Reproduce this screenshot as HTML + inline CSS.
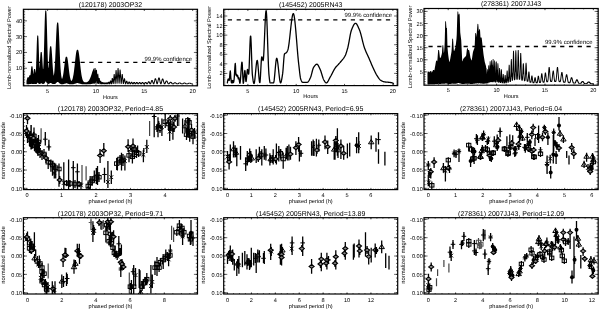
<!DOCTYPE html>
<html><head><meta charset="utf-8"><style>
html,body{margin:0;padding:0;background:#fff;}
svg{display:block;font-family:"Liberation Sans", sans-serif;-webkit-font-smoothing:antialiased;will-change:transform;text-rendering:geometricPrecision;}
</style></head><body>
<svg width="600" height="309" viewBox="0 0 600 309">
<rect width="600" height="309" fill="#fff"/>
<g>
<path d="M26.5 80.86 26.75 79.99 27 78.98 27.25 77.95 27.5 77.39 27.75 77.29 28 77.29 28.25 77.29 28.5 77.29 28.75 77.41 29 76.63 29.25 75.77 29.5 75.25 29.75 75.19 30 75.19 30.25 75.19 30.5 74.64 30.75 72.53 31 69.68 31.25 67.17 31.5 66.21 31.75 66.21 32 66.21 32.25 66.21 32.5 66.63 32.75 68.77 33 71.77 33.25 74.45 33.5 72.43 33.75 70.42 34 69.22 34.25 69.08 34.5 69.08 34.75 69.09 35 69.1 35.25 69.97 35.5 71.77 35.75 72.88 36 68.6 36.25 62.11 36.5 53.94 36.75 45.48 37 38.73 37.25 35.6 37.5 35.52 37.75 35.52 38 35.52 38.25 35.92 38.5 39.96 38.75 47.17 39 55.51 39.25 63.02 39.5 68.42 39.75 65.17 40 60.77 40.25 56.54 40.5 53.37 40.75 52.01 41 51.99 41.25 51.99 41.5 51.99 41.75 52.22 42 54.21 42.25 57.76 42.5 62.05 42.75 66.23 43 69.62 43.25 68.5 43.5 63.88 43.75 57.35 44 49.03 44.25 39.43 44.5 29.49 44.75 20.52 45 13.89 45.25 10.74 45.5 10.58 45.75 10.58 46 10.58 46.25 10.79 46.5 14.09 46.75 20.85 47 29.92 47.25 39.89 47.5 49.46 47.75 57.67 48 63.97 48.25 68.22 48.5 67.26 48.75 63.99 49 60.14 49.25 56.08 49.5 52.24 49.75 49.07 50 46.97 50.25 46.25 50.5 46.25 50.75 46.25 51 46.25 51.25 46.53 51.5 48.13 51.75 50.96 52 54.66 52.25 58.79 52.5 62.94 52.75 66.75 53 70 53.25 72.57 53.5 74.45 53.75 75.66 54 74.47 54.25 72.66 54.5 70.13 54.75 66.83 55 62.72 55.25 57.82 55.5 52.27 55.75 46.3 56 40.23 56.25 34.45 56.5 29.42 56.75 25.56 57 23.2 57.25 22.56 57.5 22.56 57.75 22.56 58 22.56 58.25 23.07 58.5 25.29 58.75 29.06 59 34.06 59.25 39.87 59.5 46.05 59.75 52.18 60 57.93 60.25 63.06 60.5 67.42 60.75 70.98 61 73.75 61.25 75.83 61.5 77.31 61.75 78.3 62 78.91 62.25 78.46 62.5 77.77 62.75 76.86 63 75.71 63.25 74.32 63.5 72.69 63.75 70.85 64 68.85 64.25 66.74 64.5 64.6 64.75 62.53 65 60.64 65.25 59.03 65.5 57.8 65.75 57.03 66 56.76 66.25 56.76 66.5 56.76 66.75 56.76 67 56.85 67.25 57.42 67.5 58.48 67.75 59.97 68 61.79 68.25 63.85 68.5 66.04 68.75 68.26 69 70.42 69.25 72.44 69.5 74.27 69.75 75.87 70 77.24 70.25 78.37 70.5 79.28 70.75 79.98 71 80.51 71.25 80.87 71.5 81.01 71.75 80.71 72 80.29 72.25 79.74 72.5 79.03 72.75 78.16 73 77.1 73.25 75.85 73.5 74.4 73.75 72.74 74 70.88 74.25 68.85 74.5 66.68 74.75 64.4 75 62.07 75.25 59.75 75.5 57.52 75.75 55.46 76 53.62 76.25 52.09 76.5 50.92 76.75 50.17 77 49.86 77.25 49.85 77.5 49.85 77.75 49.85 78 49.89 78.25 50.31 78.5 51.17 78.75 52.43 79 54.05 79.25 55.95 79.5 58.07 79.75 60.34 80 62.67 80.25 65 80.5 67.28 80.75 69.44 81 71.44 81.25 73.27 81.5 74.89 81.75 76.32 82 77.54 82.25 78.57 82.5 79.42 82.75 80.12 83 80.67 83.25 81.11 83.5 81.45 83.75 81.71 84 81.91 84.25 82.05 84.5 82.16 84.75 82.24 85 82.29 85.25 82.32 85.5 82.35 85.75 82.34 86 82.31 86.25 82.27 86.5 82.21 86.75 82.15 87 82.06 87.25 81.96 87.5 81.84 87.75 81.69 88 81.51 88.25 81.29 88.5 81.04 88.75 80.75 89 80.41 89.25 80.03 89.5 79.6 89.75 79.11 90 78.57 90.25 77.99 90.5 77.35 90.75 76.67 91 75.95 91.25 75.2 91.5 74.43 91.75 73.64 92 72.86 92.25 72.08 92.5 71.34 92.75 70.63 93 69.98 93.25 69.4 93.5 68.9 93.75 68.49 94 68.19 94.25 67.99 94.5 71.78 94.75 67.93 95 67.93 95.25 67.93 95.5 67.93 95.75 70.54 96 69.99 96.25 69.85 96.5 69.85 96.75 69.85 97 70.62 97.25 75.01 97.5 73.85 97.75 73.84 98 73.84 98.25 73.85 98.5 76.37 98.75 78.02 99 77.92 99.25 77.93 99.5 77.92 99.75 78.13 100 80.39 100.25 80.67 100.5 80.66 100.75 80.66 101 80.66 101.25 80.89 101.5 82.15 101.75 81.94 102 81.93 102.25 81.93 102.5 81.93 102.75 82.03 103 82.7 103.25 82.39 103.5 82.33 103.75 82.33 104 82.33 104.25 82.34 104.5 82.74 104.75 82.58 105 82.38 105.25 82.38 105.5 82.38 105.75 82.38 106 82.55 106.25 82.8 106.5 82.29 106.75 82.22 107 82.22 107.25 82.22 107.5 82.22 107.75 82.58 108 82.33 108.25 81.76 108.5 81.72 108.75 81.72 109 81.72 109.25 81.75 109.5 82.3 109.75 81.49 110 80.58 110.25 80.49 110.5 80.49 110.75 80.49 111 80.52 111.25 81.31 111.5 80.2 111.75 78.37 112 77.99 112.25 77.99 112.5 77.99 112.75 77.99 113 78.92 113.25 79.22 113.5 75.74 113.75 74.12 114 74.11 114.25 74.11 114.5 74.11 114.75 74.6 115 77.52 115.25 75.14 115.5 70.96 115.75 69.98 116 69.98 116.25 69.98 116.5 69.98 116.75 71.7 117 76.43 117.25 72.9 117.5 68.63 117.75 67.91 118 67.9 118.25 67.9 118.5 67.91 118.75 70.24 119 75.56 119.25 74.51 119.5 70.49 119.75 69.55 120 69.55 120.25 69.55 120.5 69.55 120.75 71.03 121 75.28 121.25 78.7 121.5 75.47 121.75 73.95 122 73.93 122.25 73.93 122.5 73.93 122.75 74.21 123 76.32 123.25 79.49 123.5 80.35 123.75 78.78 124 78.27 124.25 78.27 124.5 78.27 124.75 78.27 125 78.57 125.25 79.86 125.5 81.55 125.75 82.02 126 81.15 126.25 80.77 126.5 80.76 126.75 80.76 127 80.76 127.25 80.83 127.5 81.38 127.75 82.24 128 82.88 128.25 82.23 128.5 81.74 128.75 81.61 129 81.61 129.25 81.61 129.5 81.61 129.75 81.73 130 82.2 130.25 82.82 130.5 82.87 130.75 82.32 131 81.92 131.25 81.83 131.5 81.83 131.75 81.83 132 81.83 132.25 81.95 132.5 82.36 132.75 82.91 133 82.99 133.25 82.48 133.5 82.07 133.75 81.91 134 81.91 134.25 81.91 134.5 81.91 134.75 81.96 135 82.27 135.25 82.75 135.5 83.23 135.75 82.8 136 82.34 136.25 82.03 136.5 81.97 136.75 81.97 137 81.97 137.25 81.97 137.5 82.08 137.75 82.42 138 82.89 138.25 83.26 138.5 82.82 138.75 82.39 139 82.1 139.25 82.02 139.5 82.02 139.75 82.02 140 82.02 140.25 82.1 140.5 82.39 140.75 82.81 141 83.24 141.25 83.03 141.5 82.6 141.75 82.24 142 82.05 142.25 82.03 142.5 82.03 142.75 82.03 143 82.04 143.25 82.2 143.5 82.53 143.75 82.95 144 83.33 144.25 82.95 144.5 82.51 144.75 82.13 145 81.91 145.25 81.88 145.5 81.88 145.75 81.88 146 81.88 146.25 82.01 146.5 82.33 146.75 82.76 147 83.19 147.25 82.97 147.5 82.44 147.75 81.9 148 81.49 148.25 81.29 148.5 81.29 148.75 81.29 149 81.29 149.25 81.31 149.5 81.54 149.75 82 150 82.56 150.25 83.1 150.5 82.57 150.75 81.78 151 80.98 151.25 80.35 151.5 80.02 151.75 79.99 152 79.99 152.25 79.99 152.5 80 152.75 80.28 153 80.89 153.25 81.7 153.5 82.54 153.75 82.48 154 81.44 154.25 80.3 154.5 79.26 154.75 78.54 155 78.3 155.25 78.3 155.5 78.3 155.75 78.3 156 78.4 156.25 78.97 156.5 79.93 156.75 81.08 157 82.2 157.25 82.26 157.5 81.08 157.75 79.79 158 78.63 158.25 77.81 158.5 77.49 158.75 77.49 159 77.49 159.25 77.49 159.5 77.56 159.75 78.1 160 79.07 160.25 80.29 160.5 81.54 160.75 82.59 161 82.13 161.25 81.1 161.5 80.07 161.75 79.21 162 78.68 162.25 78.54 162.5 78.54 162.75 78.54 163 78.54 163.25 78.67 163.5 79.18 163.75 79.98 164 80.94 164.25 81.9 164.5 82.71 164.75 82.92 165 82.33 165.25 81.7 165.5 81.14 165.75 80.73 166 80.53 166.25 80.52 166.5 80.52 166.75 80.52 167 80.53 167.25 80.7 167.5 81.08 167.75 81.58 168 82.14 168.25 82.68 168.5 83.14 168.75 83.32 169 83.01 169.25 82.67 169.5 82.35 169.75 82.09 170 81.92 170.25 81.87 170.5 81.87 170.75 81.87 171 81.87 171.25 81.9 171.5 82.04 171.75 82.27 172 82.56 172.25 82.87 172.5 83.16 172.75 83.41 173 83.45 173.25 83.25 173.5 83.02 173.75 82.79 174 82.59 174.25 82.44 174.5 82.37 174.75 82.36 175 82.36 175.25 82.36 175.5 82.36 175.75 82.41 176 82.53 176.25 82.71 176.5 82.92 176.75 83.14 177 83.35 177.25 83.52 177.5 83.47 177.75 83.3 178 83.11 178.25 82.92 178.5 82.74 178.75 82.6 179 82.52 179.25 82.5 179.5 82.5 179.75 82.5 180 82.5 180.25 82.53 180.5 82.61 180.75 82.74 181 82.92 181.25 83.1 181.5 83.29 181.75 83.45 182 83.58 182.25 83.47 182.5 83.32 182.75 83.15 183 82.98 183.25 82.82 183.5 82.7 183.75 82.63 184 82.6 184.25 82.6 184.5 82.6 184.75 82.6 185 82.61 185.25 82.67 185.5 82.78 185.75 82.92 186 83.08 186.25 83.24 186.5 83.4 186.75 83.53 187 83.58 187.25 83.47 187.5 83.34 187.75 83.19 188 83.04 188.25 82.91 188.5 82.8 188.75 82.73 189 82.7 189.25 82.7 189.5 82.7 189.75 82.7 190 82.7 190.25 82.74 190.5 82.82 190.75 82.93 191 83.07 191.25 83.21 191.5 83.35 191.75 83.48 192 83.58 192.25 83.59 192.5 83.55 192.75 83.54 193 83.54 193 84.31 192.75 84.36 192.5 84.37 192.25 84.37 192 84.37 191.75 84.37 191.5 84.36 191.25 84.31 191 84.22 190.75 84.1 190.5 83.97 190.25 83.82 190 83.69 189.75 83.56 189.5 83.47 189.25 83.54 189 83.66 188.75 83.8 188.5 83.95 188.25 84.1 188 84.22 187.75 84.31 187.5 84.36 187.25 84.37 187 84.37 186.75 84.37 186.5 84.37 186.25 84.34 186 84.27 185.75 84.15 185.5 84.01 185.25 83.85 185 83.68 184.75 83.53 184.5 83.41 184.25 83.45 184 83.58 183.75 83.75 183.5 83.92 183.25 84.08 183 84.22 182.75 84.32 182.5 84.36 182.25 84.37 182 84.37 181.75 84.37 181.5 84.36 181.25 84.31 181 84.21 180.75 84.06 180.5 83.88 180.25 83.69 180 83.51 179.75 83.36 179.5 83.35 179.25 83.51 179 83.69 178.75 83.89 178.5 84.08 178.25 84.23 178 84.33 177.75 84.36 177.5 84.36 177.25 84.36 177 84.36 176.75 84.35 176.5 84.27 176.25 84.12 176 83.93 175.75 83.71 175.5 83.49 175.25 83.3 175 83.19 174.75 83.37 174.5 83.58 174.25 83.82 174 84.04 173.75 84.22 173.5 84.33 173.25 84.35 173 84.35 172.75 84.35 172.5 84.35 172.25 84.31 172 84.18 171.75 83.97 171.5 83.69 171.25 83.38 171 83.08 170.75 82.82 170.5 82.88 170.25 83.17 170 83.51 169.75 83.84 169.5 84.12 169.25 84.29 169 84.32 168.75 84.32 168.5 84.32 168.25 84.32 168 84.24 167.75 83.98 167.5 83.58 167.25 83.06 167 82.5 166.75 81.96 166.5 81.57 166.25 82.05 166 82.65 165.75 83.28 165.5 83.82 165.25 84.16 165 84.25 164.75 84.25 164.5 84.25 164.25 84.25 164 84.12 163.75 83.67 163.5 82.95 163.25 82.03 163 81.05 162.75 80.17 162.5 80.22 162.25 81.17 162 82.23 161.75 83.2 161.5 83.89 161.25 84.17 161 84.17 160.75 84.17 160.5 84.17 160.25 84.11 160 83.61 159.75 82.69 159.5 81.5 159.25 80.24 159 79.15 158.75 79.76 158.5 81 158.25 82.28 158 83.35 157.75 84.01 157.5 84.17 157.25 84.17 157 84.17 156.75 84.17 156.5 83.97 156.25 83.29 156 82.25 155.75 81.08 155.5 80.01 155.25 80.35 155 81.45 154.75 82.58 154.5 83.52 154.25 84.09 154 84.23 153.75 84.23 153.5 84.23 153.25 84.23 153 84.07 152.75 83.53 152.5 82.74 152.25 81.9 152 81.28 151.75 81.99 151.5 82.8 151.25 83.54 151 84.07 150.75 84.29 150.5 84.29 150.25 84.29 150 84.29 149.75 84.26 149.5 83.98 149.25 83.49 149 82.92 148.75 82.4 148.5 82.81 148.25 83.36 148 83.86 147.75 84.21 147.5 84.33 147.25 84.33 147 84.33 146.75 84.33 146.5 84.28 146.25 84.04 146 83.64 145.75 83.19 145.5 82.97 145.25 83.39 145 83.82 144.75 84.17 144.5 84.33 144.25 84.34 144 84.34 143.75 84.34 143.5 84.33 143.25 84.16 143 83.81 142.75 83.39 142.5 83.07 142.25 83.47 142 83.89 141.75 84.21 141.5 84.34 141.25 84.34 141 84.34 140.75 84.34 140.5 84.31 140.25 84.08 140 83.69 139.75 83.25 139.5 83.25 139.25 83.7 139 84.1 138.75 84.32 138.5 84.34 138.25 84.34 138 84.34 137.75 84.34 137.5 84.16 137.25 83.77 137 83.3 136.75 83.21 136.5 83.69 136.25 84.11 136 84.33 135.75 84.34 135.5 84.34 135.25 84.34 135 84.32 134.75 84.09 134.5 83.65 134.25 83.15 134 83.38 133.75 83.89 133.5 84.25 133.25 84.34 133 84.34 132.75 84.34 132.5 84.34 132.25 84.22 132 83.82 131.75 83.27 131.5 83.23 131.25 83.79 131 84.21 130.75 84.33 130.5 84.33 130.25 84.33 130 84.33 129.75 84.21 129.5 83.76 129.25 83.14 129 83.19 128.75 83.83 128.5 84.26 128.25 84.32 128 84.32 127.75 84.32 127.5 84.31 127.25 84.01 127 83.29 126.75 82.4 126.5 83.12 126.25 83.97 126 84.26 125.75 84.26 125.5 84.26 125.25 84.26 125 83.99 124.75 82.88 124.5 81.23 124.25 81.82 124 83.53 123.75 84.12 123.5 84.12 123.25 84.12 123 84.12 122.75 83.6 122.5 81.4 122.25 78.25 122 80.81 121.75 83.47 121.5 83.93 121.25 83.93 121 83.93 120.75 83.92 120.5 82.2 120.25 77.96 120 77.28 119.75 81.97 119.5 83.79 119.25 83.79 119 83.79 118.75 83.79 118.5 82.9 118.25 78.56 118 75.92 117.75 81.34 117.5 83.79 117.25 83.8 117 83.8 116.75 83.8 116.5 83.18 116.25 79.25 116 77.92 115.75 82.39 115.5 83.94 115.25 83.94 115 83.94 114.75 83.94 114.5 83.11 114.25 79.78 114 81.35 113.75 83.79 113.5 84.11 113.25 84.11 113 84.11 112.75 84.1 112.5 82.8 112.25 81.81 112 83.68 111.75 84.24 111.5 84.24 111.25 84.24 111 84.24 110.75 83.84 110.5 82.71 110.25 83.88 110 84.31 109.75 84.31 109.5 84.31 109.25 84.31 109 84.13 108.75 83.36 108.5 84.11 108.25 84.34 108 84.34 107.75 84.34 107.5 84.34 107.25 84.16 107 83.76 106.75 84.28 106.5 84.36 106.25 84.36 106 84.36 105.75 84.35 105.5 84.03 105.25 84.09 105 84.36 104.75 84.36 104.5 84.36 104.25 84.36 104 84.24 103.75 83.86 103.5 84.33 103.25 84.35 103 84.35 102.75 84.35 102.5 84.31 102.25 83.74 102 84.25 101.75 84.32 101.5 84.32 101.25 84.32 101 84.28 100.75 83.42 100.5 84.16 100.25 84.24 100 84.24 99.75 84.24 99.5 84.11 99.25 82.23 99 84.1 98.75 84.11 98.5 84.1 98.25 84.1 98 83.33 97.75 82.65 97.5 83.93 97.25 83.93 97 83.93 96.75 83.93 96.5 80.44 96.25 83.79 96 83.8 95.75 83.8 95.5 83.8 95.25 82.31 95 83.18 94.75 83.78 94.5 83.79 94.25 83.79 94 83.41 93.75 82.77 93.5 83.88 93.25 83.88 93 83.88 92.75 83.82 92.5 83.16 92.25 84.04 92 84.04 91.75 84.03 91.5 83.99 91.25 83.85 91 84.18 90.75 84.18 90.5 84.18 90.25 84.05 90 84.25 89.75 84.27 89.5 84.27 89.25 84.27 89 83.94 88.75 84.32 88.5 84.32 88.25 84.32 88 84.32 87.75 84.3 87.5 84.35 87.25 84.35 87 84.35 86.75 84.25 86.5 84.36 86.25 84.36 86 84.36 85.75 84.36 85.5 84.36 85.25 84.36 85 84.36 84.75 84.36 84.5 84.34 84.25 84.35 84 84.35 83.75 84.35 83.5 84.27 83.25 84.32 83 84.32 82.75 84.32 82.5 84.16 82.25 84.23 82 84.23 81.75 84.23 81.5 84.03 81.25 84.05 81 84.05 80.75 84.05 80.5 83.76 80.25 83.76 80 83.77 79.75 83.76 79.5 83.42 79.25 83.41 79 83.42 78.75 83.42 78.5 83.14 78.25 83.15 78 83.14 77.75 83.06 77.5 83.04 77.25 83.05 77 83.06 76.75 83.18 76.5 83.17 76.25 83.18 76 83.45 75.75 83.45 75.5 83.46 75.25 83.76 75 83.76 74.75 83.75 74.5 83.76 74.25 84.01 74 84.01 73.75 84.01 73.5 84.18 73.25 84.18 73 84.18 72.75 84.27 72.5 84.27 72.25 84.27 72 84.31 71.75 84.31 71.5 84.31 71.25 84.3 71 84.3 70.75 84.3 70.5 84.28 70.25 84.25 70 84.25 69.75 84.14 69.5 84.13 69.25 84.13 69 83.95 68.75 83.95 68.5 83.95 68.25 83.7 68 83.72 67.75 83.71 67.5 83.49 67.25 83.49 67 83.47 66.75 83.35 66.5 83.34 66.25 83.33 66 83.35 65.75 83.47 65.5 83.45 65.25 83.65 65 83.66 64.75 83.67 64.5 83.87 64.25 83.87 64 84.04 63.75 84.04 63.5 84.09 63.25 84.16 63 84.15 62.75 84.21 62.5 84.22 62.25 84.23 62 84.23 61.75 84.23 61.5 84.23 61.25 84.19 61 84.19 60.75 84.09 60.5 84.09 60.25 83.87 60 83.85 59.75 83.51 59.5 83.49 59.25 82.98 59 83.03 58.75 82.5 58.5 82.53 58.25 82.05 58 82.12 57.75 81.94 57.5 82.02 57.25 82.01 57 82.37 56.75 82.39 56.5 82.82 56.25 82.83 56 83.24 55.75 83.63 55.5 83.6 55.25 83.86 55 83.88 54.75 84.03 54.5 84.04 54.25 84.1 54 84.11 53.75 84.11 53.5 84.1 53.25 84.12 53 84.06 52.75 84.04 52.5 83.94 52.25 83.74 52 83.71 51.75 83.49 51.5 83.2 51.25 83.23 51 82.97 50.75 82.97 50.5 82.95 50.25 82.99 50 83.28 49.75 83.27 49.5 83.55 49.25 83.71 49 83.86 48.75 83.85 48.5 83.91 48.25 83.89 48 83.88 47.75 83.81 47.5 83.77 47.25 83.52 47 83.19 46.75 82.71 46.5 82.65 46.25 82.02 46 81.62 45.75 81.52 45.5 81.46 45.25 82.08 45 82.4 44.75 82.97 44.5 83.32 44.25 83.68 44 83.68 43.75 83.85 43.5 83.93 43.25 83.96 43 83.95 42.75 83.91 42.5 83.9 42.25 83.7 42 83.54 41.75 83.32 41.5 83.41 41.25 83.27 41 83.24 40.75 83.43 40.5 83.64 40.25 83.82 40 83.91 39.75 83.93 39.5 83.86 39.25 83.91 39 83.88 38.75 83.63 38.5 83.47 38.25 83.23 38 82.93 37.75 82.54 37.5 82.63 37.25 83.05 37 83.56 36.75 83.71 36.5 83.94 36.25 84.04 36 84.03 35.75 84.07 35.5 84.08 35.25 84.03 35 83.88 34.75 83.94 34.5 83.84 34.25 83.98 34 83.91 33.75 84.08 33.5 84.09 33.25 84.11 33 84.11 32.75 84.08 32.5 84.03 32.25 83.89 32 83.78 31.75 83.77 31.5 83.84 31.25 84.01 31 84.06 30.75 84.08 30.5 84.09 30.25 84.08 30 84.06 29.75 84.07 29.5 84.11 29.25 84.16 29 84.17 28.75 84.17 28.5 84.15 28.25 84.16 28 84.15 27.75 84.16 27.5 84.22 27.25 84.28 27 84.35 26.75 84.37 26.5 84.37Z" fill="#000"/>
<line x1="27.86" y1="62.3" x2="191" y2="62.3" stroke="#000" stroke-width="1.3" stroke-dasharray="4.2 4.58"/><text x="192" y="60.5" text-anchor="end" font-size="5.98">99.9% confidence</text>
<path d="M227.3 83.3 227.5 81.9 227.7 80.71 227.9 79.8 228.1 79.21 228.3 79 228.5 79.19 228.7 79.63 228.9 80.11 229.1 80.45 229.3 80.28 229.5 78.77 229.7 76.4 229.9 73.85 230.1 71.83 230.3 71 230.5 72.47 230.7 75.71 230.9 78.94 231.1 80.78 231.3 82.18 231.5 82.8 231.7 81.88 231.9 80.47 232.1 80.48 232.3 81.95 232.5 82.9 232.7 82.02 232.9 80.66 233.1 80.63 233.3 81.83 233.5 82.6 233.7 82.07 233.9 80.82 234.1 79.3 234.3 77.1 234.5 73.88 234.7 70.29 234.9 66.94 235.1 64.46 235.3 63.5 235.5 65.84 235.7 70.66 235.9 74.65 236.1 75.22 236.3 74.75 236.5 74.28 236.7 74.39 236.9 75.5 237.1 76.61 237.3 76.66 237.5 75.96 237.7 75.5 237.9 76.36 238.1 77.94 238.3 78.8 238.5 78.38 238.7 77.72 238.9 77.73 239.1 78.64 239.3 80.06 239.5 81.59 239.7 82.8 239.9 83.3 240.1 82.76 240.3 81.28 240.5 79.08 240.7 76.38 240.9 73.41 241.1 70.38 241.3 67.52 241.5 65.05 241.7 63.18 241.9 62.14 242.1 62.36 242.3 64.88 242.5 69.03 242.7 73.88 242.9 78.49 243.1 81.94 243.3 83.3 243.5 82.75 243.7 81.3 243.9 79.25 244.1 76.9 244.3 74.55 244.5 72.5 244.7 71.05 244.9 70.5 245.1 71.48 245.3 73.87 245.5 76.86 245.7 79.66 245.9 81.44 246.1 81.54 246.3 80.42 246.5 78.51 246.7 76.16 246.9 73.73 247.1 71.56 247.3 70 247.5 69.4 247.7 69.82 247.9 70.84 248.1 72.13 248.3 73.32 248.5 74.09 248.7 73.92 248.9 71.87 249.1 68.2 249.3 63.38 249.5 57.87 249.7 52.13 249.9 46.62 250.1 41.8 250.3 38.13 250.5 36.08 250.7 36.1 250.9 38.35 251.1 42.34 251.3 47.56 251.5 53.48 251.7 59.6 251.9 65.38 252.1 70.32 252.3 73.89 252.5 75.85 252.7 77.48 252.9 79.01 253.1 80.39 253.3 81.57 253.5 82.52 253.7 83.2 253.9 83.55 254.1 83.53 254.3 83.02 254.5 82.07 254.7 80.74 254.9 79.11 255.1 77.23 255.3 75.19 255.5 73.04 255.7 70.86 255.9 68.71 256.1 66.67 256.3 64.79 256.5 63.16 256.7 61.83 256.9 60.88 257.1 60.37 257.3 60.4 257.5 61.13 257.7 62.48 257.9 64.31 258.1 66.52 258.3 68.97 258.5 71.55 258.7 74.13 258.9 76.58 259.1 78.79 259.3 80.62 259.5 81.97 259.7 82.7 259.9 82.61 260.1 81.22 260.3 78.74 260.5 75.47 260.7 71.74 260.9 67.86 261.1 64.13 261.3 60.86 261.5 58.38 261.7 56.99 261.9 56.86 262.1 57.3 262.3 58.02 262.5 58.86 262.7 59.66 262.9 60.26 263.1 60.5 263.3 59.86 263.5 58.08 263.7 55.31 263.9 51.75 264.1 47.56 264.3 42.94 264.5 38.04 264.7 33.06 264.9 28.16 265.1 23.54 265.3 19.35 265.5 15.79 265.7 13.02 265.9 11.24 266.1 10.6 266.3 11.36 266.5 13.49 266.7 16.8 266.9 21.09 267.1 26.16 267.3 31.8 267.5 37.83 267.7 44.04 267.9 50.23 268.1 56.2 268.3 61.75 268.5 66.68 268.7 70.8 268.9 73.89 269.1 75.95 269.3 77.83 269.5 79.58 269.7 81.08 269.9 82.2 270.1 82.82 270.3 82.9 270.5 82.9 270.7 82.9 270.9 82.9 271.1 82.9 271.3 82.9 271.5 82.9 271.7 82.9 271.9 82.9 272.1 82.9 272.3 82.9 272.5 82.9 272.7 82.9 272.9 82.9 273.1 82.9 273.3 82.9 273.5 82.9 273.7 82.62 273.9 81.84 274.1 80.63 274.3 79.06 274.5 77.19 274.7 75.12 274.9 72.89 275.1 70.6 275.3 68.31 275.5 66.08 275.7 64.01 275.9 62.14 276.1 60.57 276.3 59.36 276.5 58.58 276.7 58.3 276.9 58.49 277.1 59.02 277.3 59.87 277.5 60.98 277.7 62.32 277.9 63.85 278.1 65.53 278.3 67.32 278.5 69.18 278.7 71.07 278.9 72.95 279.1 74.78 279.3 76.52 279.5 78.13 279.7 79.57 279.9 80.81 280.1 81.79 280.3 82.49 280.5 82.85 280.7 82.86 280.9 82.59 281.1 82.09 281.3 81.37 281.5 80.48 281.7 79.45 281.9 78.3 282.1 77.08 282.3 75.82 282.5 74.54 282.7 73.18 282.9 71.28 283.1 68.91 283.3 66.25 283.5 63.48 283.7 60.76 283.9 58.28 284.1 56.21 284.3 54.72 284.5 54 284.7 53.75 284.9 53.55 285.1 53.4 285.3 53.28 285.5 53.18 285.7 53.08 285.9 52.97 286.1 52.85 286.3 52.7 286.5 52.5 286.7 52.25 286.9 51.95 287.1 51.6 287.3 51.2 287.5 50.75 287.7 50.26 287.9 49.71 288.1 48.97 288.3 48.05 288.5 46.95 288.7 45.71 288.9 44.33 289.1 42.83 289.3 41.23 289.5 39.54 289.7 37.79 289.9 35.98 290.1 34.14 290.3 32.28 290.5 30.42 290.7 28.58 290.9 26.76 291.1 25 291.3 23.3 291.5 21.68 291.7 20.17 291.9 18.76 292.1 17.49 292.3 16.37 292.5 15.42 292.7 14.65 292.9 14.08 293.1 13.72 293.3 13.6 293.5 13.74 293.7 14.15 293.9 14.82 294.1 15.72 294.3 16.85 294.5 18.18 294.7 19.7 294.9 21.39 295.1 23.23 295.3 25.22 295.5 27.32 295.7 29.53 295.9 31.83 296.1 34.2 296.3 36.62 296.5 39.08 296.7 41.57 296.9 44.06 297.1 46.54 297.3 48.99 297.5 51.4 297.7 53.74 297.9 56.01 298.1 58.18 298.3 60.24 298.5 62.18 298.7 63.96 298.9 65.63 299.1 67.37 299.3 69.17 299.5 70.98 299.7 72.74 299.9 74.4 300.1 75.91 300.3 77.22 300.5 78.26 300.7 79 300.9 79.55 301.1 80.08 301.3 80.57 301.5 81.02 301.7 81.41 301.9 81.75 302.1 82.01 302.3 82.19 302.5 82.29 302.7 82.3 302.9 82.3 303.1 82.3 303.3 82.3 303.5 82.3 303.7 82.3 303.9 82.3 304.1 82.3 304.3 82.3 304.5 82.3 304.7 82.3 304.9 82.3 305.1 82.3 305.3 82.3 305.5 82.3 305.7 82.3 305.9 82.3 306.1 82.3 306.3 82.3 306.5 82.3 306.7 82.3 306.9 82.3 307.1 82.3 307.3 82.29 307.5 82.24 307.7 82.13 307.9 81.98 308.1 81.79 308.3 81.56 308.5 81.29 308.7 80.99 308.9 80.67 309.1 80.32 309.3 79.96 309.5 79.58 309.7 79.19 309.9 78.79 310.1 78.39 310.3 78 310.5 77.59 310.7 77.1 310.9 76.52 311.1 75.87 311.3 75.15 311.5 74.4 311.7 73.62 311.9 72.82 312.1 72.01 312.3 71.23 312.5 70.46 312.7 69.74 312.9 69.08 313.1 68.49 313.3 67.98 313.5 67.56 313.7 67.25 313.9 66.95 314.1 66.66 314.3 66.38 314.5 66.1 314.7 65.84 314.9 65.59 315.1 65.35 315.3 65.13 315.5 64.93 315.7 64.75 315.9 64.59 316.1 64.45 316.3 64.35 316.5 64.27 316.7 64.22 316.9 64.2 317.1 64.23 317.3 64.33 317.5 64.49 317.7 64.69 317.9 64.95 318.1 65.25 318.3 65.58 318.5 65.94 318.7 66.33 318.9 66.74 319.1 67.16 319.3 67.59 319.5 68.03 319.7 68.46 319.9 68.89 320.1 69.3 320.3 69.73 320.5 70.22 320.7 70.75 320.9 71.32 321.1 71.92 321.3 72.55 321.5 73.19 321.7 73.86 321.9 74.52 322.1 75.19 322.3 75.85 322.5 76.5 322.7 77.13 322.9 77.74 323.1 78.31 323.3 78.84 323.5 79.33 323.7 79.76 323.9 80.14 324.1 80.46 324.3 80.77 324.5 81.09 324.7 81.4 324.9 81.7 325.1 81.98 325.3 82.24 325.5 82.46 325.7 82.64 325.9 82.78 326.1 82.87 326.3 82.9 326.5 82.87 326.7 82.79 326.9 82.67 327.1 82.49 327.3 82.28 327.5 82.03 327.7 81.75 327.9 81.44 328.1 81.1 328.3 80.75 328.5 80.37 328.7 79.98 328.9 79.58 329.1 79.18 329.3 78.77 329.5 78.37 329.7 77.97 329.9 77.58 330.1 77.2 330.3 76.84 330.5 76.5 330.7 76.17 330.9 75.82 331.1 75.47 331.3 75.1 331.5 74.73 331.7 74.36 331.9 73.98 332.1 73.59 332.3 73.2 332.5 72.81 332.7 72.42 332.9 72.03 333.1 71.64 333.3 71.26 333.5 70.88 333.7 70.5 333.9 70.13 334.1 69.77 334.3 69.41 334.5 69.07 334.7 68.74 334.9 68.41 335.1 68.11 335.3 67.81 335.5 67.53 335.7 67.27 335.9 67.02 336.1 66.79 336.3 66.57 336.5 66.35 336.7 66.14 336.9 65.94 337.1 65.74 337.3 65.54 337.5 65.33 337.7 65.12 337.9 64.91 338.1 64.69 338.3 64.47 338.5 64.24 338.7 64.02 338.9 63.8 339.1 63.58 339.3 63.36 339.5 63.13 339.7 62.91 339.9 62.68 340.1 62.46 340.3 62.23 340.5 62 340.7 61.76 340.9 61.53 341.1 61.29 341.3 61.05 341.5 60.8 341.7 60.55 341.9 60.3 342.1 60.05 342.3 59.8 342.5 59.56 342.7 59.32 342.9 59.07 343.1 58.83 343.3 58.57 343.5 58.32 343.7 58.05 343.9 57.78 344.1 57.49 344.3 57.18 344.5 56.87 344.7 56.53 344.9 56.18 345.1 55.8 345.3 55.39 345.5 54.94 345.7 54.44 345.9 53.91 346.1 53.35 346.3 52.75 346.5 52.13 346.7 51.49 346.9 50.82 347.1 50.13 347.3 49.43 347.5 48.72 347.7 48 347.9 47.23 348.1 46.38 348.3 45.45 348.5 44.47 348.7 43.43 348.9 42.36 349.1 41.26 349.3 40.14 349.5 39.02 349.7 37.9 349.9 36.81 350.1 35.74 350.3 34.71 350.5 33.73 350.7 32.81 350.9 31.97 351.1 31.22 351.3 30.55 351.5 30 351.7 29.5 351.9 29.01 352.1 28.52 352.3 28.03 352.5 27.56 352.7 27.09 352.9 26.64 353.1 26.21 353.3 25.8 353.5 25.41 353.7 25.04 353.9 24.7 354.1 24.4 354.3 24.12 354.5 23.88 354.7 23.68 354.9 23.52 355.1 23.4 355.3 23.32 355.5 23.3 355.7 23.33 355.9 23.41 356.1 23.53 356.3 23.71 356.5 23.92 356.7 24.18 356.9 24.47 357.1 24.79 357.3 25.14 357.5 25.52 357.7 25.92 357.9 26.34 358.1 26.78 358.3 27.23 358.5 27.68 358.7 28.15 358.9 28.62 359.1 29.08 359.3 29.54 359.5 30 359.7 30.48 359.9 31.01 360.1 31.59 360.3 32.21 360.5 32.87 360.7 33.57 360.9 34.29 361.1 35.05 361.3 35.83 361.5 36.62 361.7 37.43 361.9 38.25 362.1 39.08 362.3 39.91 362.5 40.74 362.7 41.56 362.9 42.37 363.1 43.17 363.3 43.95 363.5 44.7 363.7 45.43 363.9 46.13 364.1 46.8 364.3 47.42 364.5 48 364.7 48.55 364.9 49.08 365.1 49.6 365.3 50.1 365.5 50.59 365.7 51.06 365.9 51.53 366.1 51.99 366.3 52.43 366.5 52.87 366.7 53.31 366.9 53.74 367.1 54.17 367.3 54.59 367.5 55.02 367.7 55.44 367.9 55.87 368.1 56.3 368.3 56.73 368.5 57.17 368.7 57.62 368.9 58.07 369.1 58.53 369.3 59 369.5 59.47 369.7 59.94 369.9 60.42 370.1 60.89 370.3 61.37 370.5 61.85 370.7 62.33 370.9 62.81 371.1 63.28 371.3 63.76 371.5 64.23 371.7 64.7 371.9 65.16 372.1 65.62 372.3 66.08 372.5 66.52 372.7 66.97 372.9 67.4 373.1 67.83 373.3 68.26 373.5 68.7 373.7 69.13 373.9 69.56 374.1 70 374.3 70.42 374.5 70.85 374.7 71.27 374.9 71.68 375.1 72.09 375.3 72.49 375.5 72.89 375.7 73.27 375.9 73.65 376.1 74.01 376.3 74.37 376.5 74.71 376.7 75.04 376.9 75.36 377.1 75.68 377.3 76 377.5 76.31 377.7 76.63 377.9 76.95 378.1 77.26 378.3 77.56 378.5 77.86 378.7 78.15 378.9 78.43 379.1 78.69 379.3 78.95 379.5 79.19 379.7 79.42 379.9 79.63 380.1 79.83 380.3 80.01 380.5 80.16 380.7 80.3 380.9 80.42 381.1 80.54 381.3 80.66 381.5 80.77 381.7 80.88 381.9 80.98 382.1 81.08 382.3 81.17 382.5 81.26 382.7 81.35 382.9 81.43 383.1 81.5 383.3 81.57 383.5 81.64 383.7 81.7 383.9 81.75 384.1 81.8 384.3 81.84 384.5 81.88 384.7 81.92 384.9 81.95 385.1 81.97 385.3 82 385.5 82.02 385.7 82.04 385.9 82.06 386.1 82.08 386.3 82.1 386.5 82.11 386.7 82.13 386.9 82.14 387.1 82.16 387.3 82.17 387.5 82.19 387.7 82.2 387.9 82.22 388.1 82.23 388.3 82.25 388.5 82.26 388.7 82.28 388.9 82.3 389.1 82.32 389.3 82.35 389.5 82.37 389.7 82.4 389.9 82.43 390.1 82.46 390.3 82.48 390.5 82.51 390.7 82.54 390.9 82.57 391.1 82.6 391.3 82.64 391.5 82.68 391.7 82.73 391.9 82.78 392.1 82.84 392.3 82.91 392.5 82.98 392.7 83.06 392.9 83.15 393.1 83.28 393.3 83.56 393.5 83.96 393.7 84.43" fill="none" stroke="#000" stroke-width="1.3" stroke-linejoin="round"/>
<line x1="227.86" y1="19.8" x2="391" y2="19.8" stroke="#000" stroke-width="1.3" stroke-dasharray="4.2 4.58"/><text x="392" y="16.9" text-anchor="end" font-size="5.98">99.9% confidence</text>
<path d="M427.48 72.63 427.73 72.32 427.98 72 428.23 71.69 428.48 71.49 428.73 71.5 428.98 71.5 429.23 71.5 429.48 71.89 429.73 72.39 429.98 71.87 430.23 71.25 430.48 71.02 430.73 71.02 430.98 71.03 431.23 71.05 431.48 71.8 431.73 72.55 431.98 72.39 432.23 71.83 432.48 71.27 432.73 70.72 432.98 70.16 433.23 70.04 433.48 70.05 433.73 70.04 433.98 70.11 434.23 70.42 434.48 69.9 434.73 68.49 434.98 67.09 435.23 65.68 435.48 64.27 435.73 62.87 435.98 61.46 436.23 60.63 436.48 60.61 436.73 60.64 436.98 60.62 437.23 61.38 437.48 59.14 437.73 55.78 437.98 52.43 438.23 50.01 438.48 49.97 438.73 50.03 438.98 49.97 439.23 51.55 439.48 53.83 439.73 56.1 439.98 58.37 440.23 58.11 440.48 57.73 440.73 57.34 440.98 56.94 441.23 56 441.48 55.07 441.73 54.13 441.98 52.64 442.23 48.39 442.48 45.17 442.73 45.22 442.98 45.13 443.23 45.24 443.48 47.96 443.73 52.21 443.98 53.07 444.23 50 444.48 46.94 444.73 41.55 444.98 31.34 445.23 21.19 445.48 21.4 445.73 21.27 445.98 21.31 446.23 25.18 446.48 28.05 446.73 28 446.98 28.09 447.23 37.53 447.48 47.36 447.73 50.04 447.98 52.72 448.23 55.09 448.48 56.8 448.73 58.51 448.98 60.22 449.23 61.93 449.48 61.79 449.73 60.92 449.98 60.04 450.23 59.01 450.48 57.56 450.73 56.1 450.98 54.64 451.23 53.18 451.48 51.72 451.73 48.52 451.98 43.2 452.23 38.64 452.48 38.67 452.73 38.68 452.98 38.62 453.23 41.32 453.48 46.12 453.73 49.97 453.98 50.98 454.23 50.91 454.48 50.19 454.73 49.48 454.98 48.76 455.23 48.04 455.48 47.32 455.73 45.28 455.98 43.19 456.23 41.11 456.48 39.03 456.73 34.88 456.98 26.45 457.23 18.01 457.48 11.61 457.73 11.58 457.98 11.53 458.23 11.63 458.48 14.64 458.73 14.42 458.98 13.81 459.23 13.68 459.48 13.78 459.73 15.7 459.98 23.93 460.23 32.16 460.48 34.51 460.73 36.39 460.98 38.26 461.23 40.32 461.48 45.58 461.73 50.84 461.98 56.1 462.23 61.36 462.48 61.31 462.73 60.51 462.98 59.71 463.23 58.91 463.48 58.64 463.73 58.37 463.98 58.1 464.23 57.83 464.48 57.56 464.73 57.29 464.98 57.01 465.23 56.74 465.48 56.47 465.73 56.2 465.98 55.93 466.23 54.93 466.48 52.78 466.73 50.63 466.98 48.47 467.23 48.27 467.48 48.32 467.73 48.28 467.98 49.19 468.23 50.18 468.48 50 468.73 49.96 468.98 50 469.23 50.42 469.48 51.89 469.73 53.36 469.98 54.84 470.23 56.31 470.48 57.78 470.73 58.5 470.98 59.12 471.23 59.75 471.48 60.37 471.73 60.58 471.98 58.78 472.23 56.99 472.48 55.2 472.73 53.41 472.98 51.94 473.23 51.24 473.48 50.55 473.73 49.85 473.98 49.16 474.23 48.46 474.48 47.77 474.73 45.32 474.98 39.18 475.23 33.03 475.48 33.14 475.73 33.05 475.98 33.13 476.23 34.53 476.48 37.17 476.73 33.75 476.98 30.34 477.23 26.92 477.48 23.91 477.73 23.87 477.98 23.88 478.23 23.91 478.48 26.42 478.73 31.26 478.98 30.5 479.23 29.23 479.48 29.17 479.73 29.21 479.98 29.21 480.23 33.25 480.48 37.55 480.73 37.47 480.98 37.42 481.23 37.38 481.48 37.41 481.73 38.22 481.98 40.49 482.23 42.76 482.48 45.03 482.73 47.3 482.98 49.57 483.23 51.84 483.48 54.1 483.73 55.64 483.98 57.18 484.23 58.72 484.48 60.25 484.73 61.79 484.98 62.67 485.23 63.53 485.48 64.39 485.73 65.25 485.98 66.12 486.23 67.93 486.48 67.93 486.73 74.54 486.98 69.33 487.23 69.33 487.48 69.33 487.73 69.34 487.98 72.32 488.23 66.41 488.48 65.13 488.73 65.13 488.98 65.13 489.23 65.22 489.48 69.78 489.73 61.29 489.98 61.29 490.23 61.3 490.48 61.29 490.73 64.34 490.98 65.91 491.23 60.24 491.48 60.23 491.73 60.23 491.98 60.23 492.23 65.61 492.48 64.52 492.73 58.93 492.98 58.92 493.23 58.93 493.48 58.93 493.73 64.37 493.98 67.45 494.23 60.43 494.48 60.44 494.73 60.43 494.98 60.44 495.23 63.47 495.48 73.19 495.73 62.38 495.98 61.47 496.23 61.46 496.48 61.47 496.73 61.61 496.98 70.73 497.23 68.74 497.48 63.27 497.73 63.27 497.98 63.27 498.23 63.27 498.48 65.64 498.73 75.95 498.98 71.03 499.23 67.88 499.48 67.88 499.73 67.88 499.98 67.88 500.23 70.26 500.48 78.04 500.73 72.33 500.98 69.28 501.23 69.28 501.48 69.28 501.73 69.28 501.98 71.1 502.23 77.92 502.48 77.48 502.73 74.15 502.98 74.01 503.23 74.01 503.48 74.01 503.73 74.17 503.98 77.68 504.23 80.53 504.48 76.72 504.73 74.99 504.98 74.99 505.23 74.99 505.48 74.99 505.73 75.53 505.98 79.07 506.23 78.57 506.48 72.91 506.73 70.46 506.98 70.47 507.23 70.46 507.48 70.46 507.73 71.54 507.98 76.86 508.23 77.07 508.48 69.16 508.73 64.74 508.98 64.73 509.23 64.73 509.48 64.73 509.73 65.52 509.98 72.15 510.23 78.5 510.48 70.43 510.73 61.18 510.98 59 511.23 59.01 511.48 59 511.73 59 511.98 62.44 512.23 71.97 512.48 73.8 512.73 62.02 512.98 51.89 513.23 50.79 513.48 50.8 513.73 50.79 513.98 50.8 514.23 57.47 514.48 69.79 514.73 74.58 514.98 63.83 515.23 52.77 515.48 50.26 515.73 50.26 515.98 50.26 516.23 50.26 516.48 54.16 516.73 65.72 516.98 75.42 517.23 69.74 517.48 57.95 517.73 50.2 517.98 49.9 518.23 49.9 518.48 49.9 518.73 50.17 518.98 57.59 519.23 69.15 519.48 76.77 519.73 69.78 519.98 59.46 520.23 53.12 520.48 52.98 520.73 52.98 520.98 52.98 521.23 53.34 521.48 59.97 521.73 70.05 521.98 77.09 522.23 75.71 522.48 69.57 522.73 64.37 522.98 63.25 523.23 63.25 523.48 63.25 523.73 63.25 523.98 64.65 524.23 70.19 524.48 76.19 524.73 79.09 524.98 75.22 525.23 69.02 525.48 63.71 525.73 62.76 525.98 62.76 526.23 62.76 526.48 62.76 526.73 65.06 526.98 70.91 527.23 76.67 527.48 79.9 527.73 78.88 527.98 75.7 528.23 72.74 528.48 71.55 528.73 71.55 528.98 71.55 529.23 71.55 529.48 71.9 529.73 74.41 529.98 77.87 530.23 80.51 530.48 81.58 530.73 80.21 530.98 78.08 531.23 76.19 531.48 75.5 531.73 75.5 531.98 75.5 532.23 75.5 532.48 75.74 532.73 77.34 532.98 79.55 533.23 81.33 533.48 82.21 533.73 81.55 533.98 80.16 534.23 78.58 534.48 77.38 534.73 77.16 534.98 77.16 535.23 77.16 535.48 77.16 535.73 77.62 535.98 79.04 536.23 80.69 536.48 81.87 536.73 82.15 536.98 81.26 537.23 79.62 537.48 77.63 537.73 76.06 537.98 75.64 538.23 75.64 538.48 75.64 538.73 75.64 538.98 75.97 539.23 77.44 539.48 79.4 539.73 81.03 539.98 81.88 540.23 81.23 540.48 79.62 540.73 77.25 540.98 74.87 541.23 73.44 541.48 73.3 541.73 73.3 541.98 73.3 542.23 73.3 542.48 74.17 542.73 76.27 542.98 78.69 543.23 80.58 543.48 81.58 543.73 81.27 543.98 79.93 544.23 77.74 544.48 75.24 544.73 73.31 544.98 72.6 545.23 72.59 545.48 72.6 545.73 72.59 545.98 72.69 546.23 73.98 546.48 76.28 546.73 78.66 546.98 80.39 547.23 81.07 547.48 80.25 547.73 78.29 547.98 75.11 548.23 71.28 548.48 67.94 548.73 66.9 548.98 66.9 549.23 66.9 549.48 66.9 549.73 67.16 549.98 69.21 550.23 72.57 550.48 76.11 550.73 78.87 550.98 80.46 551.23 81.07 551.48 80.26 551.73 78.58 551.98 76.16 552.23 73.58 552.48 71.63 552.73 70.63 552.98 70.58 553.23 70.58 553.48 70.58 553.73 70.61 553.98 71.67 554.23 73.89 554.48 76.52 554.73 78.84 554.98 80.37 555.23 81.08 555.48 80.6 555.73 79.31 555.98 77.04 556.23 73.96 556.48 70.72 556.73 68.15 556.98 67.01 557.23 66.99 557.48 66.99 557.73 66.99 557.98 67.07 558.23 68.44 558.48 71.44 558.73 74.85 558.98 77.76 559.23 79.75 559.48 80.78 559.73 81.16 559.98 80.62 560.23 79.42 560.48 77.62 560.73 75.53 560.98 73.67 561.23 72.47 561.48 72.11 561.73 72.11 561.98 72.11 562.23 72.11 562.48 72.33 562.73 73.51 562.98 75.39 563.23 77.5 563.48 79.38 563.73 80.73 563.98 81.51 564.23 81.83 564.48 81.66 564.73 81.04 564.98 79.96 565.23 78.48 565.48 76.85 565.73 75.41 565.98 74.5 566.23 74.31 566.48 74.31 566.73 74.31 566.98 74.31 567.23 74.53 567.48 75.46 567.73 76.9 567.98 78.53 568.23 80.02 568.48 81.14 568.73 81.83 568.98 82.17 569.23 82.29 569.48 82.06 569.73 81.56 569.98 80.77 570.23 79.77 570.48 78.74 570.73 77.87 570.98 77.36 571.23 77.27 571.48 77.27 571.73 77.27 571.98 77.27 572.23 77.45 572.48 78.06 572.73 78.98 572.98 80.02 573.23 81 573.48 81.77 573.73 82.3 573.98 82.59 574.23 82.72 574.48 82.73 574.73 82.56 574.98 82.22 575.23 81.72 575.48 81.1 575.73 80.43 575.98 79.85 576.23 79.45 576.48 79.33 576.73 79.33 576.98 79.33 577.23 79.33 577.48 79.36 577.73 79.64 577.98 80.15 578.23 80.78 578.48 81.44 578.73 82.03 578.98 82.48 579.23 82.77 579.48 82.94 579.73 83.01 579.98 83.04 580.23 82.95 580.48 82.78 580.73 82.51 580.98 82.17 581.23 81.79 581.48 81.43 581.73 81.15 581.98 81 582.23 80.99 582.48 80.99 582.73 80.99 582.98 80.99 583.23 81.07 583.48 81.28 583.73 81.61 583.98 81.98 584.23 82.36 584.48 82.69 584.73 82.94 584.98 83.11 585.23 83.22 585.48 83.27 585.73 83.26 585.98 83.22 586.23 83.15 586.48 83.01 586.73 82.81 586.98 82.55 587.23 82.27 587.48 81.98 587.73 81.74 587.98 81.56 588.23 81.49 588.48 81.49 588.73 81.49 588.98 81.49 589.23 81.5 589.48 81.58 589.73 81.76 589.98 82.01 590.23 82.29 590.48 82.57 590.73 82.81 590.98 83 591.23 83.15 591.48 83.23 591.73 83.28 591.98 83.3 592.23 83.31 592.48 83.31 592.73 83.25 592.98 83.2 593.23 83.2 593.48 83.2 593.73 83.2 593.73 84.27 593.48 84.27 593.23 84.2 592.98 84.14 592.73 84.14 592.48 84.14 592.23 84.14 591.98 84.14 591.73 84.13 591.48 84.12 591.23 84.11 590.98 84.09 590.73 84.06 590.48 84 590.23 83.89 589.98 83.72 589.73 83.51 589.48 83.25 589.23 82.97 588.98 82.7 588.73 82.47 588.48 82.67 588.23 82.94 587.98 83.23 587.73 83.5 587.48 83.73 587.23 83.89 586.98 84 586.73 84.05 586.48 84.07 586.23 84.08 585.98 84.08 585.73 84.08 585.48 84.08 585.23 84.08 584.98 84.08 584.73 84.08 584.48 84.05 584.23 83.98 583.98 83.85 583.73 83.64 583.48 83.35 583.23 83 582.98 82.62 582.73 82.26 582.48 82.09 582.23 82.42 581.98 82.8 581.73 83.17 581.48 83.47 581.23 83.69 580.98 83.81 580.73 83.86 580.48 83.86 580.23 83.86 579.98 83.86 579.73 83.86 579.48 83.86 579.23 83.85 578.98 83.83 578.73 83.79 578.48 83.68 578.23 83.46 577.98 83.1 577.73 82.58 577.48 81.96 577.23 81.3 576.98 80.7 576.73 80.96 576.48 81.6 576.23 82.26 575.98 82.82 575.73 83.23 575.48 83.47 575.23 83.57 574.98 83.58 574.73 83.58 574.48 83.58 574.23 83.58 573.98 83.58 573.73 83.57 573.48 83.55 573.23 83.48 572.98 83.29 572.73 82.9 572.48 82.26 572.23 81.39 571.98 80.36 571.73 79.35 571.48 79.12 571.23 80.11 570.98 81.15 570.73 82.04 570.48 82.67 570.23 83.02 569.98 83.14 569.73 83.15 569.48 83.15 569.23 83.15 568.98 83.15 568.73 83.14 568.48 83.11 568.23 83.06 567.98 82.86 567.73 82.38 567.48 81.5 567.23 80.2 566.98 78.61 566.73 77.03 566.48 76.97 566.23 78.56 565.98 80.14 565.73 81.42 565.48 82.24 565.23 82.63 564.98 82.74 564.73 82.74 564.48 82.74 564.23 82.74 563.98 82.74 563.73 82.72 563.48 82.69 563.23 82.53 562.98 82.03 562.73 81.01 562.48 79.4 562.23 77.38 561.98 75.3 561.73 75.45 561.48 77.51 561.23 79.48 560.98 80.97 560.73 81.81 560.48 82.11 560.23 82.13 559.98 82.13 559.73 82.13 559.48 82.13 559.23 82.09 558.98 82.03 558.73 81.85 558.48 81.23 558.23 79.8 557.98 77.38 557.73 74.17 557.48 70.78 557.23 73.31 556.98 76.55 556.73 79.23 556.48 80.95 556.23 81.75 555.98 81.98 555.73 82.03 555.48 82.05 555.23 82.05 554.98 82.05 554.73 82.05 554.48 82.01 554.23 81.66 553.98 80.61 553.73 78.7 553.48 76.16 553.23 73.61 552.98 75.8 552.73 78.38 552.48 80.43 552.23 81.61 551.98 82.03 551.73 82.07 551.48 82.07 551.23 82.07 550.98 82.07 550.73 82.04 550.48 81.99 550.23 81.7 549.98 80.7 549.73 78.59 549.48 75.4 549.23 71.8 548.98 74.24 548.73 77.82 548.48 80.34 548.23 81.62 547.98 82.03 547.73 82.13 547.48 82.18 547.23 82.18 546.98 82.18 546.73 82.18 546.48 82.16 546.23 81.75 545.98 80.54 545.73 78.46 545.48 76 545.23 77.43 544.98 79.85 544.73 81.59 544.48 82.45 544.23 82.68 543.98 82.7 543.73 82.7 543.48 82.7 543.23 82.7 542.98 82.7 542.73 82.61 542.48 82.05 542.23 80.65 541.98 78.45 541.73 76.95 541.48 79.43 541.23 81.44 540.98 82.51 540.73 82.84 540.48 82.89 540.23 82.91 539.98 82.91 539.73 82.91 539.48 82.91 539.23 82.86 538.98 82.4 538.73 81.19 538.48 79.34 538.23 79.56 537.98 81.42 537.73 82.65 537.48 83.16 537.23 83.25 536.98 83.27 536.73 83.27 536.48 83.27 536.23 83.27 535.98 83.26 535.73 83.03 535.48 82.24 535.23 80.78 534.98 80.24 534.73 81.8 534.48 82.85 534.23 83.23 533.98 83.27 533.73 83.27 533.48 83.27 533.23 83.27 532.98 83.25 532.73 83.18 532.48 82.73 532.23 81.45 531.98 79.38 531.73 80.12 531.48 81.9 531.23 82.71 530.98 82.82 530.73 82.82 530.48 82.82 530.23 82.82 529.98 82.79 529.73 82.7 529.48 82.14 529.23 80.32 528.98 77.16 528.73 78.38 528.48 80.91 528.23 81.82 527.98 81.87 527.73 81.87 527.48 81.87 527.23 81.87 526.98 81.75 526.73 81.41 526.48 79.63 526.23 75.17 525.98 73.43 525.73 78.57 525.48 80.78 525.23 81.12 524.98 81.14 524.73 81.14 524.48 81.14 524.23 81.14 523.98 80.98 523.73 79.26 523.48 74.56 523.23 73.99 522.98 78.88 522.73 80.57 522.48 80.65 522.23 80.65 521.98 80.65 521.73 80.65 521.48 80.53 521.23 79.68 520.98 75.41 520.73 66.47 520.48 75.21 520.23 79.25 519.98 79.79 519.73 79.79 519.48 79.79 519.23 79.79 518.98 79.78 518.73 79.24 518.48 74.99 518.23 65.5 517.98 75.52 517.73 79.44 517.48 79.84 517.23 79.85 516.98 79.85 516.73 79.85 516.48 79.85 516.23 78.8 515.98 72.69 515.73 71.29 515.48 78.58 515.23 80.11 514.98 80.15 514.73 80.15 514.48 80.15 514.23 80.15 513.98 79.86 513.73 75.88 513.48 69.95 513.23 78.54 512.98 80.61 512.73 80.8 512.48 80.8 512.23 80.8 511.98 80.8 511.73 80.63 511.48 77.25 511.23 76.39 510.98 81.29 510.73 82.01 510.48 82.04 510.23 82.04 509.98 82.04 509.73 82.04 509.48 81.47 509.23 77.21 508.98 80.81 508.73 82.53 508.48 82.65 508.23 82.65 507.98 82.65 507.73 82.65 507.48 82.56 507.23 80.44 506.98 81.71 506.73 83.19 506.48 83.29 506.23 83.29 505.98 83.29 505.73 83.29 505.48 83.24 505.23 81.8 504.98 82.78 504.73 83.5 504.48 83.51 504.23 83.51 503.98 83.51 503.73 83.51 503.48 83.27 503.23 80.96 502.98 83.14 502.73 83.32 502.48 83.32 502.23 83.32 501.98 83.32 501.73 83.24 501.48 81.61 501.23 82.31 500.98 83.02 500.73 83.02 500.48 83.02 500.23 83.02 499.98 83.01 499.73 81.75 499.48 82.07 499.23 82.84 498.98 82.84 498.73 82.84 498.48 82.84 498.23 82.79 497.98 80.88 497.73 81.9 497.48 82.37 497.23 82.37 496.98 82.37 496.73 82.37 496.48 82.25 496.23 79.54 495.98 82.4 495.73 82.43 495.48 82.43 495.23 82.43 494.98 82.43 494.73 81.06 494.48 81.94 494.23 82.17 493.98 82.17 493.73 82.17 493.48 82.17 493.23 81.6 492.98 81.75 492.73 82.23 492.48 82.23 492.23 82.23 491.98 82.23 491.73 81.89 491.48 82.04 491.23 82.34 490.98 82.34 490.73 82.34 490.48 82.34 490.23 81.72 489.98 82.39 489.73 82.44 489.48 82.44 489.23 82.44 488.98 82.44 488.73 82.18 488.48 83.2 488.23 83.21 487.98 83.21 487.73 83.21 487.48 83.14 487.23 83.43 486.98 83.46 486.73 83.46 486.48 83.46 486.23 83.46 485.98 83.4 485.73 83.52 485.48 83.52 485.23 83.52 484.98 83.52 484.73 83.39 484.48 83.63 484.23 83.63 483.98 83.63 483.73 83.63 483.48 83.63 483.23 83.79 482.98 83.79 482.73 83.79 482.48 83.78 482.23 83.56 481.98 83.57 481.73 83.57 481.48 83.57 481.23 83.53 480.98 83.54 480.73 83.54 480.48 83.54 480.23 83.54 479.98 83.15 479.73 83.33 479.48 83.33 479.23 83.33 478.98 83.33 478.73 83.38 478.48 83.38 478.23 83.38 477.98 83.38 477.73 83.36 477.48 83.37 477.23 83.37 476.98 83.37 476.73 83.54 476.48 83.54 476.23 83.54 475.98 83.54 475.73 83.56 475.48 83.6 475.23 83.6 474.98 83.6 474.73 83.71 474.48 83.71 474.23 83.71 473.98 83.71 473.73 83.77 473.48 83.77 473.23 83.77 472.98 83.77 472.73 83.9 472.48 83.9 472.23 83.9 471.98 83.9 471.73 83.95 471.48 83.95 471.23 83.95 470.98 83.94 470.73 83.9 470.48 83.9 470.23 83.9 469.98 83.84 469.73 83.84 469.48 83.84 469.23 83.82 468.98 83.74 468.73 83.74 468.48 83.81 468.23 83.81 467.98 83.81 467.73 83.81 467.48 83.72 467.23 83.72 466.98 83.72 466.73 83.84 466.48 83.84 466.23 83.84 465.98 83.85 465.73 83.85 465.48 83.85 465.23 83.87 464.98 83.87 464.73 83.87 464.48 83.89 464.23 83.89 463.98 83.89 463.73 83.91 463.48 83.91 463.23 83.95 462.98 83.95 462.73 83.95 462.48 84 462.23 84 461.98 84 461.73 84 461.48 83.8 461.23 83.8 460.98 83.79 460.73 83.52 460.48 83.52 460.23 83.42 459.98 83.42 459.73 83.42 459.48 83.17 459.23 83.17 458.98 83.1 458.73 83.1 458.48 83.1 458.23 83.1 457.98 83.1 457.73 83.09 457.48 83.47 457.23 83.47 456.98 83.56 456.73 83.57 456.48 83.57 456.23 83.66 455.98 83.66 455.73 83.69 455.48 83.69 455.23 83.72 454.98 83.72 454.73 83.75 454.48 83.75 454.23 83.76 453.98 83.76 453.73 83.76 453.48 83.76 453.23 83.72 452.98 83.72 452.73 83.62 452.48 83.61 452.23 83.76 451.98 83.76 451.73 83.81 451.48 83.81 451.23 83.87 450.98 83.87 450.73 83.91 450.48 83.95 450.23 83.95 449.98 83.98 449.73 83.98 449.48 84.01 449.23 84.01 448.98 84.01 448.73 84.01 448.48 83.95 448.23 83.9 447.98 83.9 447.73 83.84 447.48 83.84 447.23 83.77 446.98 83.69 446.73 83.69 446.48 83.44 446.23 83.37 445.98 83.37 445.73 83.37 445.48 83.49 445.23 83.67 444.98 83.75 444.73 83.75 444.48 83.84 444.23 83.84 443.98 83.84 443.73 83.83 443.48 83.83 443.23 83.8 442.98 83.73 442.73 83.74 442.48 83.8 442.23 83.82 441.98 83.84 441.73 83.86 441.48 83.86 441.23 83.87 440.98 83.88 440.73 83.89 440.48 83.9 440.23 83.91 439.98 83.91 439.73 83.91 439.48 83.91 439.23 83.89 438.98 83.84 438.73 83.79 438.48 83.82 438.23 83.89 437.98 83.96 437.73 84 437.48 84 437.23 84 436.98 83.98 436.73 83.96 436.48 83.99 436.23 84.02 435.98 84.04 435.73 84.07 435.48 84.09 435.23 84.12 434.98 84.14 434.73 84.14 434.48 84.14 434.23 84.14 433.98 84.14 433.73 84.13 433.48 84.14 433.23 84.15 432.98 84.15 432.73 84.17 432.48 84.18 432.23 84.19 431.98 84.19 431.73 84.19 431.48 84.2 431.23 84.19 430.98 84.18 430.73 84.16 430.48 84.17 430.23 84.18 429.98 84.19 429.73 84.19 429.48 84.18 429.23 84.18 428.98 84.17 428.73 84.16 428.48 84.16 428.23 84.17 427.98 84.3 427.73 84.3 427.48 84.3Z" fill="#000"/>
<line x1="428.46" y1="46.5" x2="591.5" y2="46.5" stroke="#000" stroke-width="1.3" stroke-dasharray="4.2 4.58"/><text x="592.5" y="44.3" text-anchor="end" font-size="5.98">99.9% confidence</text><style>.o{fill:none;stroke:#000;stroke-width:1.0}.l{fill:none;stroke:#000;stroke-width:1.0}.o.d{fill:#888;stroke-width:1.1}.gs .o,.gs .l{stroke:#555}.gs circle{fill:#555}</style><defs><clipPath id="c21"><rect x="23.4" y="113.6" width="174.1" height="76.0"/></clipPath><clipPath id="c22"><rect x="223.7" y="113.6" width="174.0" height="76.0"/></clipPath><clipPath id="c23"><rect x="424.0" y="113.6" width="174.20000000000005" height="76.0"/></clipPath><clipPath id="c31"><rect x="23.4" y="217.7" width="174.1" height="76.30000000000001"/></clipPath><clipPath id="c32"><rect x="223.7" y="217.7" width="174.0" height="76.30000000000001"/></clipPath><clipPath id="c33"><rect x="424.0" y="217.7" width="174.20000000000005" height="76.30000000000001"/></clipPath></defs><g clip-path="url(#c21)"><path d="M41.1 128.2V142.4M82 165V185.4M86.1 166.3V180.5M149.6 121V136M178.8 114V126" stroke="#444" stroke-width="1.2" fill="none"/><path d="M27.5 115.2V124.3M27.5 127.5V143M26.5 125V138M31 125V149.5M29.5 133V146M33 134V148M34 127.5V141.8M35.5 137V150M36.5 139V152M38.5 135V149M30 134V147M32 137V149M34.5 140V151M36 134V146M30.5 131V142M33.5 132V144M37.5 138V150M39 142V152M31.2 125V149.5M45.3 132V145.6M48.9 139.8V150.8M37.2 145V154M38 146V156M40 148V158M42 150V160M44 149V159M46 153V163M48.2 158.2V169M50.9 159.5V171.8M52.5 161V175.8M55.7 163.6V178.6M54.3 163.6V178.6M59 163.6V186.7M59.7 176V184M63.8 162.2V189.5M68.6 159.5V189.5M66.5 180V186M70 180V187M73.3 161V189.5M75 180V188M77.4 163.6V189.5M79 181V187M81 182V189M88.2 182V189M88.2 186V190M90.2 176V189.5M92 176V186M94.3 170.4V182.7M96.3 168V184M99 172V182M97.5 166V185M100.1 150V162.9M103.8 143V156.5M100 148.9V153M104.5 167.7V182.7M107.9 160.9V188.1M111.3 170.4V184M116.7 158V170M117.4 157.5V170.4M121.5 152.7V170.4M120 155V165M123 154V166M124.9 155.4V170.4M129 150V162.2M128.1 139.2V152M132.4 150V163.6M133 138.5V152M134.4 150V158.2M136.5 148V158M137.6 145.6V153M131 145V152M135 145V153M143.4 150V162.2M146.8 139.8V153M143.8 148V152M138.7 150V157M154.2 114.6V137.2M158 117.2V137.2M158.7 121V129M157 124V132M160 125V133M161.9 118.5V136M165.2 114V128M168.4 120V130M170.3 115V122M169.7 122.3V141.1M172.9 119.8V139.8M171 121V131M174.9 115V122M174 122V132M177.5 114V126M182.6 118.5V133.4M185 120V132M187.8 117V135M189.1 118V138M186.5 128V140M189.7 130V141.8M193 129V144.3M191.5 124V136M194.5 128V138" stroke="#000" stroke-width="1.3" fill="none"/><g style="--c:#555" class="gs"></g><path d="M27.5 116.22L30.03 118.2L27.5 120.18L24.97 118.2Z" class="o d"/><rect x="25.36" y="131.94" width="4.29" height="3.52" class="o"/><path d="M26.5 129.02L29.03 131L26.5 132.98L23.97 131Z" class="o d"/><path d="M31 135.02L33.53 137L31 138.98L28.47 137Z" class="o d"/><path d="M27.63 137.13L31.37 140.87M27.63 140.87L31.37 137.13" class="l"/><rect x="30.86" y="139.24" width="4.29" height="3.52" class="o"/><path d="M31.69 134H36.31M34 131.69V136.31" class="l"/><path d="M35.5 142.02L38.03 144L35.5 145.98L32.97 144Z" class="o d"/><path d="M34.63 144.13L38.37 147.87M34.63 147.87L38.37 144.13" class="l"/><rect x="36.35" y="140.24" width="4.29" height="3.52" class="o"/><rect x="27.86" y="138.24" width="4.29" height="3.52" class="o"/><path d="M30.13 141.13L33.87 144.87M30.13 144.87L33.87 141.13" class="l"/><rect x="32.35" y="144.24" width="4.29" height="3.52" class="o"/><path d="M34.13 138.13L37.87 141.87M34.13 141.87L37.87 138.13" class="l"/><rect x="28.36" y="134.24" width="4.29" height="3.52" class="o"/><path d="M33.5 136.02L36.03 138L33.5 139.98L30.97 138Z" class="o d"/><rect x="35.35" y="142.24" width="4.29" height="3.52" class="o"/><path d="M37.13 145.13L40.87 148.87M37.13 148.87L40.87 145.13" class="l"/><path d="M42.99 139.2H47.61M45.3 136.89V141.51" class="l"/><path d="M46.59 146.9H51.21M48.9 144.59V149.21" class="l"/><rect x="35.05" y="147.74" width="4.29" height="3.52" class="o"/><rect x="35.85" y="148.94" width="4.29" height="3.52" class="o"/><rect x="37.85" y="151.24" width="4.29" height="3.52" class="o"/><path d="M40.13 153.13L43.87 156.87M40.13 156.87L43.87 153.13" class="l"/><rect x="41.85" y="152.24" width="4.29" height="3.52" class="o"/><path d="M46 156.02L48.53 158L46 159.98L43.47 158Z" class="o d"/><rect x="46.05" y="160.44" width="4.29" height="3.52" class="o"/><rect x="48.75" y="161.14" width="4.29" height="3.52" class="o"/><rect x="50.35" y="163.24" width="4.29" height="3.52" class="o"/><rect x="53.55" y="165.94" width="4.29" height="3.52" class="o"/><path d="M52.43 171.23L56.17 174.97M52.43 174.97L56.17 171.23" class="l"/><rect x="56.85" y="167.24" width="4.29" height="3.52" class="o"/><path d="M59.7 178.02L62.23 180L59.7 181.98L57.17 180Z" class="o d"/><path d="M61.93 181.13L65.67 184.87M61.93 184.87L65.67 181.13" class="l"/><path d="M66.73 182.13L70.47 185.87M66.73 185.87L70.47 182.13" class="l"/><rect x="64.36" y="181.24" width="4.29" height="3.52" class="o"/><rect x="67.86" y="181.74" width="4.29" height="3.52" class="o"/><path d="M70.99 167.7H75.61M73.3 165.39V170.01" class="l"/><rect x="72.86" y="182.24" width="4.29" height="3.52" class="o"/><path d="M75.09 171.8H79.71M77.4 169.49V174.11" class="l"/><path d="M79 182.02L81.53 184L79 185.98L76.47 184Z" class="o d"/><path d="M79.13 183.53L82.87 187.27M79.13 187.27L82.87 183.53" class="l"/><rect x="86.06" y="184.24" width="4.29" height="3.52" class="o"/><path d="M88.2 186.38L90.95 190.62L85.45 190.62Z" class="o"/><rect x="88.06" y="180.94" width="4.29" height="3.52" class="o"/><rect x="89.86" y="179.24" width="4.29" height="3.52" class="o"/><rect x="92.16" y="176.84" width="4.29" height="3.52" class="o"/><rect x="94.16" y="175.44" width="4.29" height="3.52" class="o"/><rect x="96.86" y="175.44" width="4.29" height="3.52" class="o"/><path d="M95.63 174.13L99.37 177.87M95.63 177.87L99.37 174.13" class="l"/><path d="M100.1 153.42L102.63 155.4L100.1 157.38L97.57 155.4Z" class="o d"/><path d="M103.8 148.72L106.33 150.7L103.8 152.68L101.27 150.7Z" class="o d"/><path d="M102.19 174.5H106.81M104.5 172.19V176.81" class="l"/><path d="M106.03 180.13L109.77 183.87M106.03 183.87L109.77 180.13" class="l"/><path d="M109.43 175.33L113.17 179.07M109.43 179.07L113.17 175.33" class="l"/><rect x="114.56" y="161.84" width="4.29" height="3.52" class="o"/><rect x="119.36" y="159.24" width="4.29" height="3.52" class="o"/><rect x="117.86" y="157.24" width="4.29" height="3.52" class="o"/><rect x="120.86" y="158.24" width="4.29" height="3.52" class="o"/><path d="M123.03 159.13L126.77 162.87M123.03 162.87L126.77 159.13" class="l"/><rect x="126.86" y="153.64" width="4.29" height="3.52" class="o"/><path d="M128.1 144.72L130.63 146.7L128.1 148.68L125.57 146.7Z" class="o d"/><rect x="130.25" y="155.04" width="4.29" height="3.52" class="o"/><path d="M133 144.02L135.53 146L133 147.98L130.47 146Z" class="o d"/><rect x="132.25" y="153.04" width="4.29" height="3.52" class="o"/><rect x="134.35" y="150.94" width="4.29" height="3.52" class="o"/><path d="M129.13 147.13L132.87 150.87M129.13 150.87L132.87 147.13" class="l"/><rect x="132.85" y="147.74" width="4.29" height="3.52" class="o"/><path d="M141.53 152.93L145.27 156.67M141.53 156.67L145.27 152.93" class="l"/><path d="M144.93 145.13L148.67 148.87M144.93 148.87L148.67 145.13" class="l"/><rect x="136.55" y="151.64" width="4.29" height="3.52" class="o"/><path d="M151.89 116.5H156.51M154.2 114.19V118.81" class="l"/><path d="M158.7 122.58L161.45 126.81L155.95 126.81Z" class="o"/><path d="M154.8 128H159.2M157 125.8V130.2M155.42 126.42L158.58 129.58M155.42 129.58L158.58 126.42" class="l"/><path d="M160 127.02L162.53 129L160 130.98L157.47 129Z" class="o d"/><path d="M160.03 125.13L163.77 128.87M160.03 128.87L163.77 125.13" class="l"/><rect x="163.05" y="119.94" width="4.29" height="3.52" class="o"/><rect x="166.25" y="122.24" width="4.29" height="3.52" class="o"/><path d="M170.3 116.52L172.83 118.5L170.3 120.48L167.77 118.5Z" class="o d"/><path d="M167.83 129.83L171.57 133.57M167.83 133.57L171.57 129.83" class="l"/><path d="M170.7 129.8H175.1M172.9 127.6V132M171.32 128.22L174.48 131.38M171.32 131.38L174.48 128.22" class="l"/><rect x="168.85" y="124.24" width="4.29" height="3.52" class="o"/><path d="M174.9 116.52L177.43 118.5L174.9 120.48L172.37 118.5Z" class="o d"/><path d="M174 125.02L176.53 127L174 128.98L171.47 127Z" class="o d"/><path d="M175.19 116H179.81M177.5 113.69V118.31" class="l"/><path d="M185 123.58L187.75 127.81L182.25 127.81Z" class="o"/><rect x="185.66" y="118.64" width="4.29" height="3.52" class="o"/><rect x="186.95" y="120.54" width="4.29" height="3.52" class="o"/><rect x="184.35" y="132.84" width="4.29" height="3.52" class="o"/><rect x="187.55" y="133.54" width="4.29" height="3.52" class="o"/><rect x="190.85" y="134.84" width="4.29" height="3.52" class="o"/><path d="M191.5 128.02L194.03 130L191.5 131.98L188.97 130Z" class="o d"/><path d="M192.3 132H196.7M194.5 129.8V134.2M192.92 130.42L196.08 133.58M192.92 133.58L196.08 130.42" class="l"/></g>
<g clip-path="url(#c22)"><path d="" stroke="#444" stroke-width="1.2" fill="none"/><path d="M227.5 150.9V162.2M229.1 154.1V169.5M230.3 144.4V162.2M233.5 141.2V157.4M235.1 145.2V157.4M235.9 148V157M236.8 147.7V166.3M240.5 146V159.8M245.7 157.4V171.1M247.3 151V165.5M247.6 156V163M248.5 156V162M249.7 148.5V160.6M250.8 151V163M251.8 154V162M256.2 149.3V163M258.3 154V162M259.4 146.8V159.8M261 151V159M261.8 149.3V165.5M264.3 146V159.8M265.9 148.5V160.6M269.9 153.3V165.5M270.7 155V163M272.4 155V163M273.2 149.3V164.6M275.6 155V163M276.4 143.6V164.6M278.8 146V161.4M280.4 149V158M280.8 149.3V159.8M283.2 152.5V168.7M286.1 147.7V159M287.3 146V160.6M288.9 144.4V160.6M290.5 146.8V159.8M295.9 141.2V155M298.6 137.1V151.7M299.4 146V161.4M301 150V157M311.6 141.2V155.7M313.2 139.6V155.7M314 141V156M316.4 138.8V156.6M316.9 146V154M318.8 139.6V151.7M325 135.5V149.3M327.7 140.4V154.1M334.2 142V159.8M335 142V159.8M335.8 136V145M336.5 142V152M337.4 128.2V155.7M338 143V158M340.9 139.6V159M343.7 146V159.8M347.4 143.6V158.2M349.7 142.8V156.6M356.6 137.1V153.3M358.7 132.3V153.3M359 141V150M371.2 135.5V149.3M376 138V151.7M378.5 132.3V144.4M378.5 149.3V163.8M384.9 151.7V165.5" stroke="#000" stroke-width="1.3" fill="none"/><g style="--c:#555" class="gs"></g><path d="M225.63 154.73L229.37 158.47M225.63 158.47L229.37 154.73" class="l"/><path d="M229.1 159.92L231.63 161.9L229.1 163.88L226.57 161.9Z" class="o d"/><path d="M233.5 146.58L236.25 150.81L230.75 150.81Z" class="o"/><path d="M235.9 150.08L238.65 154.31L233.15 154.31Z" class="o"/><path d="M243.39 163.8H248.01M245.7 161.49V166.11" class="l"/><rect x="245.45" y="158.04" width="4.29" height="3.52" class="o"/><circle cx="248.5" cy="159" r="1.98" fill="#000"/><path d="M249.7 151.68L252.45 155.91L246.95 155.91Z" class="o"/><path d="M251.8 155.78L254.55 160.01L249.05 160.01Z" class="o"/><path d="M258.3 156.22L260.83 158.2L258.3 160.18L255.77 158.2Z" class="o d"/><rect x="258.86" y="153.24" width="4.29" height="3.52" class="o"/><path d="M263.59 155H268.21M265.9 152.69V157.31" class="l"/><path d="M270.7 156.58L273.45 160.81L267.95 160.81Z" class="o"/><path d="M272.4 156.58L275.15 160.81L269.65 160.81Z" class="o"/><path d="M275.6 157.02L278.13 159L275.6 160.98L273.07 159Z" class="o d"/><path d="M276.49 152.5H281.11M278.8 150.19V154.81" class="l"/><rect x="278.25" y="151.54" width="4.29" height="3.52" class="o"/><rect x="281.06" y="157.24" width="4.29" height="3.52" class="o"/><path d="M287.3 151.68L290.05 155.91L284.55 155.91Z" class="o"/><path d="M290.5 152.12L293.03 154.1L290.5 156.08L287.97 154.1Z" class="o d"/><path d="M295.9 145.72L298.43 147.7L295.9 149.68L293.37 147.7Z" class="o d"/><path d="M298.6 142.42L301.13 144.4L298.6 146.38L296.07 144.4Z" class="o d"/><path d="M298.69 153.3H303.31M301 150.99V155.61" class="l"/><path d="M311.33 144.93L315.07 148.67M311.33 148.67L315.07 144.93" class="l"/><path d="M316.9 148.12L319.43 150.1L316.9 152.08L314.37 150.1Z" class="o d"/><path d="M316.49 145.2H321.11M318.8 142.89V147.51" class="l"/><path d="M325 140.02L327.53 142L325 143.98L322.47 142Z" class="o d"/><path d="M327.7 144.82L330.23 146.8L327.7 148.78L325.17 146.8Z" class="o d"/><path d="M334.2 146.88L336.95 151.12L331.45 151.12Z" class="o"/><path d="M335.8 138.42L338.33 140.4L335.8 142.38L333.27 140.4Z" class="o d"/><path d="M336.5 144.58L339.25 148.81L333.75 148.81Z" class="o"/><path d="M338 147.58L340.75 151.81L335.25 151.81Z" class="o"/><path d="M340.9 144.02L343.43 146L340.9 147.98L338.37 146Z" class="o d"/><path d="M343.7 151.32L346.23 153.3L343.7 155.28L341.17 153.3Z" class="o d"/><circle cx="356.6" cy="145.2" r="1.98" fill="#000"/><path d="M357.13 144.13L360.87 147.87M357.13 147.87L360.87 144.13" class="l"/><path d="M371.2 139.58L373.95 143.81L368.45 143.81Z" class="o"/><path d="M376.19 139.6H380.81M378.5 137.29V141.91" class="l"/></g>
<g clip-path="url(#c23)"><path d="" stroke="#444" stroke-width="1.2" fill="none"/><path d="M428.3 161V170M430.8 167.9V178.6M429.8 169V178M428.3 174.7V186.3M428.9 179V186M431.8 181.5V190M434.1 157.2V167.9M443.4 163V172.7M445.4 165.9V181.5M448.3 157.2V166.9M448.3 162V170.8M449.5 165V173M454.1 149.4V157.2M456 150V158M459 148.4V162M468.7 142.6V151.4M471.6 146V153M474.5 148V155M474.1 154.3V164M470.6 157.2V166.9M472.9 148V156M472.9 155V162M476.4 133.9V143.6M477.4 135.3V145M480.3 152V160M480.7 153V160M481.7 147V155M482.3 145V153M482.3 133V141M482.6 133V141M483.6 130.5V139.2M485.5 145V152M487.3 146V153M487.3 139V145M488.4 136.3V144.1M489.4 150V157M489.7 151.3V161M490.4 154V161M491.3 155V162M492.9 150V156M493.3 150V156M494.3 136.3V146M496.2 141V149M497.2 134.4V150.9M497.5 144V150M498.2 137V144M500.1 127.6V137.3M504.3 146V152M505 146V152M506.9 136.3V146M507.9 150V157M508.3 150V156M509.8 134.4V145M509.9 144V151M510.8 144V150M511.7 140V146M512.7 135.3V146M514.8 146V152M514.8 149V157M515.6 146V152M515.6 147V156M516.6 121.7V130.5M518.5 141V147M518.8 143V150M519.5 124.7V142.1M520.5 132V139M521.5 128V135M522.4 135V141M524.5 144V151M525.3 144V152.8M527.3 133V142M528.3 141V147M528.3 146V152M528.5 144V150M528.9 141V147M529.9 139V145M531.8 130.5V139.2M531.8 148V155M533.2 123.7V132.4M533.7 147V153M533.7 154V160M534.2 154V160M535 138V146M537.6 133V140M538.6 125.6V143.1M540.5 147V156.7M540.5 151V157M542.5 132.4V141.2M544.4 124.7V133.4M545.4 128V135M547 156.7V173M547.1 155.5V174.1M547.9 132.4V145M550.2 154.7V163.5M550.7 166.1V178.6M553.3 135V163.5M553.7 128.5V151.8M556.1 151V164M555.1 140V146M557 142V150M559 144V152M559 116.9V130.5M560 130V137M563.4 135.3V143.1M566.7 151V158.1M569 155.5V164.4M571.7 143V152M573.8 149.3V159M584.1 160.8V168M586.6 152.8V161.7M588 164V172M590.7 163V171M591.6 165V173M590.2 163.5V175M592.5 153V160M592.8 153.7V169.7M593.4 156V164M593.4 159V165" stroke="#000" stroke-width="1.3" fill="none"/><g style="--c:#555" class="gs"></g><path d="M426.1 165H430.5M428.3 162.8V167.2M426.72 163.42L429.88 166.58M426.72 166.58L429.88 163.42" class="l"/><path d="M430.8 169.72L433.33 171.7L430.8 173.68L428.27 171.7Z" class="o d"/><circle cx="429.8" cy="173.7" r="1.98" fill="#000"/><path d="M427.03 180.53L430.77 184.27M427.03 184.27L430.77 180.53" class="l"/><rect x="429.66" y="183.54" width="4.29" height="3.52" class="o"/><path d="M434.1 160.02L436.63 162L434.1 163.98L431.57 162Z" class="o d"/><path d="M443.4 165.48L446.15 169.72L440.65 169.72Z" class="o"/><path d="M443.53 168.93L447.27 172.67M443.53 172.67L447.27 168.93" class="l"/><rect x="446.16" y="158.34" width="4.29" height="3.52" class="o"/><path d="M448.3 165.92L450.83 167.9L448.3 169.88L445.77 167.9Z" class="o d"/><path d="M447.19 169H451.81M449.5 166.69V171.31" class="l"/><path d="M451.9 153.3H456.3M454.1 151.1V155.5M452.52 151.72L455.68 154.88M452.52 154.88L455.68 151.72" class="l"/><path d="M453.69 154.3H458.31M456 151.99V156.61" class="l"/><path d="M456.8 151.4H461.2M459 149.2V153.6M457.42 149.82L460.58 152.98M457.42 152.98L460.58 149.82" class="l"/><rect x="466.56" y="143.34" width="4.29" height="3.52" class="o"/><rect x="469.46" y="147.64" width="4.29" height="3.52" class="o"/><circle cx="474.5" cy="151.4" r="1.98" fill="#000"/><rect x="471.96" y="156.44" width="4.29" height="3.52" class="o"/><circle cx="470.6" cy="161.1" r="1.98" fill="#000"/><circle cx="472.9" cy="151.8" r="1.98" fill="#000"/><rect x="470.75" y="156.84" width="4.29" height="3.52" class="o"/><path d="M474.09 138.7H478.71M476.4 136.39V141.01" class="l"/><path d="M475.09 140.2H479.71M477.4 137.89V142.51" class="l"/><path d="M480.3 153.78L483.05 158.01L477.55 158.01Z" class="o"/><path d="M480.7 154.28L483.45 158.51L477.95 158.51Z" class="o"/><path d="M481.7 148.48L484.45 152.72L478.95 152.72Z" class="o"/><path d="M479.99 149.4H484.61M482.3 147.09V151.71" class="l"/><path d="M482.3 134.38L485.05 138.62L479.55 138.62Z" class="o"/><path d="M482.6 134.88L485.35 139.12L479.85 139.12Z" class="o"/><path d="M481.4 134.4H485.8M483.6 132.2V136.6M482.02 132.82L485.18 135.98M482.02 135.98L485.18 132.82" class="l"/><rect x="483.36" y="147.14" width="4.29" height="3.52" class="o"/><rect x="485.16" y="147.94" width="4.29" height="3.52" class="o"/><path d="M484.99 141.6H489.61M487.3 139.29V143.91" class="l"/><path d="M486.53 137.33L490.27 141.07M486.53 141.07L490.27 137.33" class="l"/><rect x="487.25" y="152.04" width="4.29" height="3.52" class="o"/><path d="M489.7 153.42L492.23 155.4L489.7 157.38L487.17 155.4Z" class="o d"/><circle cx="490.4" cy="157.7" r="1.98" fill="#000"/><circle cx="491.3" cy="158.6" r="1.98" fill="#000"/><rect x="490.75" y="151.14" width="4.29" height="3.52" class="o"/><rect x="491.16" y="151.04" width="4.29" height="3.52" class="o"/><path d="M491.99 141.2H496.61M494.3 138.89V143.51" class="l"/><path d="M496.2 142.58L498.95 146.81L493.45 146.81Z" class="o"/><circle cx="497.5" cy="147" r="1.98" fill="#000"/><path d="M498.2 138.22L500.73 140.2L498.2 142.18L495.67 140.2Z" class="o d"/><path d="M497.79 131.4H502.41M500.1 129.09V133.71" class="l"/><rect x="502.16" y="147.14" width="4.29" height="3.52" class="o"/><rect x="502.86" y="147.14" width="4.29" height="3.52" class="o"/><rect x="505.75" y="152.04" width="4.29" height="3.52" class="o"/><rect x="506.16" y="151.14" width="4.29" height="3.52" class="o"/><path d="M507.59 147.3H512.21M509.9 144.99V149.61" class="l"/><rect x="508.66" y="145.24" width="4.29" height="3.52" class="o"/><path d="M511.7 141.12L514.23 143.1L511.7 145.08L509.17 143.1Z" class="o d"/><circle cx="514.8" cy="148.9" r="1.98" fill="#000"/><path d="M512.49 153.8H517.11M514.8 151.49V156.11" class="l"/><path d="M513.4 148.9H517.8M515.6 146.7V151.1M514.02 147.32L517.18 150.48M514.02 150.48L517.18 147.32" class="l"/><path d="M513.29 152.8H517.91M515.6 150.49V155.11" class="l"/><path d="M516.6 122.28L519.35 126.52L513.85 126.52Z" class="o"/><path d="M518.5 142.12L521.03 144.1L518.5 146.08L515.97 144.1Z" class="o d"/><path d="M516.49 146.5H521.11M518.8 144.19V148.81" class="l"/><path d="M519.5 126.08L522.25 130.31L516.75 130.31Z" class="o"/><path d="M520.5 133.08L523.25 137.31L517.75 137.31Z" class="o"/><path d="M519.3 131.4H523.7M521.5 129.2V133.6M519.92 129.82L523.08 132.98M519.92 132.98L523.08 129.82" class="l"/><path d="M522.4 135.78L525.15 140.01L519.65 140.01Z" class="o"/><path d="M522.19 147.3H526.81M524.5 144.99V149.61" class="l"/><path d="M522.99 148H527.61M525.3 145.69V150.31" class="l"/><path d="M524.99 137.3H529.61M527.3 134.99V139.61" class="l"/><circle cx="528.3" cy="144.1" r="1.98" fill="#000"/><path d="M528.3 146.92L530.83 148.9L528.3 150.88L525.77 148.9Z" class="o d"/><rect x="526.36" y="145.54" width="4.29" height="3.52" class="o"/><path d="M526.7 144.1H531.1M528.9 141.9V146.3M527.32 142.52L530.48 145.68M527.32 145.68L530.48 142.52" class="l"/><circle cx="529.9" cy="142.1" r="1.98" fill="#000"/><path d="M531.8 132.42L534.33 134.4L531.8 136.38L529.27 134.4Z" class="o d"/><path d="M531.8 149.32L534.33 151.3L531.8 153.28L529.27 151.3Z" class="o d"/><path d="M533.2 125.62L535.73 127.6L533.2 129.58L530.67 127.6Z" class="o d"/><path d="M533.7 147.92L536.23 149.9L533.7 151.88L531.17 149.9Z" class="o d"/><rect x="531.56" y="154.94" width="4.29" height="3.52" class="o"/><rect x="532.06" y="155.24" width="4.29" height="3.52" class="o"/><rect x="535.46" y="134.54" width="4.29" height="3.52" class="o"/><path d="M538.63 149.03L542.37 152.77M538.63 152.77L542.37 149.03" class="l"/><rect x="538.36" y="152.04" width="4.29" height="3.52" class="o"/><path d="M542.5 135.32L545.03 137.3L542.5 139.28L539.97 137.3Z" class="o d"/><path d="M542.2 127.6H546.6M544.4 125.4V129.8M542.82 126.02L545.98 129.18M542.82 129.18L545.98 126.02" class="l"/><path d="M545.4 129.42L547.93 131.4L545.4 133.38L542.87 131.4Z" class="o d"/><path d="M544.69 164.5H549.31M547 162.19V166.81" class="l"/><path d="M545.23 162.13L548.97 165.87M545.23 165.87L548.97 162.13" class="l"/><circle cx="547.9" cy="137.3" r="1.98" fill="#000"/><path d="M548.33 156.73L552.07 160.47M548.33 160.47L552.07 156.73" class="l"/><circle cx="550.7" cy="172.4" r="1.98" fill="#000"/><circle cx="553.3" cy="154.6" r="1.98" fill="#000"/><path d="M551.5 132.4H555.9M553.7 130.2V134.6M552.12 130.82L555.28 133.98M552.12 133.98L555.28 130.82" class="l"/><circle cx="556.1" cy="155.3" r="1.98" fill="#000"/><circle cx="555.1" cy="143.1" r="1.98" fill="#000"/><circle cx="557" cy="146" r="1.98" fill="#000"/><path d="M559 146.02L561.53 148L559 149.98L556.47 148Z" class="o d"/><circle cx="559" cy="125.6" r="1.98" fill="#000"/><path d="M560 130.98L562.75 135.22L557.25 135.22Z" class="o"/><path d="M563.4 136.78L566.15 141.01L560.65 141.01Z" class="o"/><path d="M571.7 145.52L574.23 147.5L571.7 149.48L569.17 147.5Z" class="o d"/><path d="M573.8 151.72L576.33 153.7L573.8 155.68L571.27 153.7Z" class="o d"/><path d="M584.1 161.98L586.85 166.22L581.35 166.22Z" class="o"/><path d="M586.6 153.98L589.35 158.22L583.85 158.22Z" class="o"/><path d="M586.13 166.03L589.87 169.77M586.13 169.77L589.87 166.03" class="l"/><circle cx="590.7" cy="167" r="1.98" fill="#000"/><circle cx="591.6" cy="168.8" r="1.98" fill="#000"/><path d="M590.2 169.52L592.73 171.5L590.2 173.48L587.67 171.5Z" class="o d"/><path d="M592.5 153.98L595.25 158.22L589.75 158.22Z" class="o"/><path d="M593.4 157.48L596.15 161.72L590.65 161.72Z" class="o"/><rect x="591.25" y="160.24" width="4.29" height="3.52" class="o"/></g>
<g clip-path="url(#c31)"><path d="M48.2 263.5V278.5M91 218.6V230.2M100.7 221.8V229.6M103.3 220V229M101.8 221V230M129.3 272.4V293.5M171.6 225.7V239.9M173.6 227.6V241.9" stroke="#444" stroke-width="1.2" fill="none"/><path d="M27.5 231.5V245.8M26.8 233V241M30.8 238.6V253.5M34.4 232.2V250.9M30.1 239V248M32.1 241V251M29.5 244V253M31.5 246V254M33.5 244V252M35.7 249.6V256M34.6 254V262M37.3 256V266M39.3 255.4V264.9M40 259V268M38.5 261V268M42 263V272M42 267V276M42.7 269V281.2M40.7 274V282M44.1 270V278M42 278V285M45.4 279V286M44.5 280V291M46.8 286V294M46.1 282V294M48 282V291.4M52.3 281.2V294.8M55 281.2V294.8M52.9 285V292M54.3 287V293M63.1 254V266.9M65.9 248V258M65 247.7V258M61.8 274.4V288M63.5 276V287M66.5 272.5V286M67.2 274V284M74 259.4V273.7M75.4 260V267M77.3 243.8V256M79.3 243.8V254.8M78.5 248V255M79.5 253V264M80.7 253V259M92.9 221.2V241.9M93.6 225V234M92.9 229V236M94.2 227V235M99.4 219V226M107.8 218V225M111 218V225M106.5 221V229M107.2 224V231M109.1 223V230M105.9 226.3V242.5M110.4 223.8V247M111.7 233V241M113.6 230.2V243.8M109.1 237V245M111 239V247M113 244V251M114.9 246V256M118.8 236V252.2M121.4 244.5V254.8M114.3 249V256.5M116 251V258M117.2 253V260M120.1 248V256M118.8 250V257M120.8 259.4V270M123.5 263V270M120.8 262V277.1M122 259V270M130.3 283V290M133.7 283V290M131.4 280V294.8M133.7 264.9V294.8M133.1 268V275M135.5 268V286M139.2 269V288M140 270.3V293.5M140.7 290V295M142.1 282V291M143.4 279V288M145.5 277V285M146.8 273V285.3M150.9 264.9V293.5M152.3 274.4V288M155 260.8V275M157 257V276M159.1 263V272M157 260V268M160.4 258V266M163.2 254V269M165.2 254V262M165.8 249.6V258M167.3 252V260M168.6 254V266.2M170 252V259M170.3 244.5V256M176.8 229V236M179.4 219.9V235.4M179.4 225V232M181 224V236M182.6 230.2V245.1M183.9 228V236M182 224V232M191 219.9V244.5M190.4 234V245M189.5 232V241M193 231.5V246" stroke="#000" stroke-width="1.3" fill="none"/><g style="--c:#555" class="gs"><path d="M88.69 222.5H93.31M91 220.19V224.81" class="l"/><rect x="98.56" y="222.04" width="4.29" height="3.52" class="o"/></g><rect x="25.36" y="236.84" width="4.29" height="3.52" class="o"/><path d="M26.8 235.02L29.33 237L26.8 238.98L24.27 237Z" class="o d"/><path d="M28.23 241.33L31.97 245.07M28.23 245.07L31.97 241.33" class="l"/><rect x="29.96" y="244.04" width="4.29" height="3.52" class="o"/><rect x="27.36" y="246.54" width="4.29" height="3.52" class="o"/><path d="M31.5 248.52L34.03 250.5L31.5 252.48L28.97 250.5Z" class="o d"/><path d="M31.63 246.13L35.37 249.87M31.63 249.87L35.37 246.13" class="l"/><path d="M34.6 255.68L37.35 259.92L31.85 259.92Z" class="o"/><rect x="35.15" y="259.74" width="4.29" height="3.52" class="o"/><rect x="37.85" y="261.74" width="4.29" height="3.52" class="o"/><path d="M36.63 262.63L40.37 266.37M36.63 266.37L40.37 262.63" class="l"/><rect x="39.85" y="265.84" width="4.29" height="3.52" class="o"/><rect x="39.85" y="269.94" width="4.29" height="3.52" class="o"/><path d="M38.83 275.93L42.57 279.67M38.83 279.67L42.57 275.93" class="l"/><rect x="41.95" y="271.94" width="4.29" height="3.52" class="o"/><rect x="39.85" y="279.44" width="4.29" height="3.52" class="o"/><path d="M45.4 280.18L48.15 284.42L42.65 284.42Z" class="o"/><rect x="42.35" y="283.24" width="4.29" height="3.52" class="o"/><rect x="44.65" y="288.24" width="4.29" height="3.52" class="o"/><path d="M46.13 285.13L49.87 288.87M46.13 288.87L49.87 285.13" class="l"/><path d="M52.9 286.72L55.43 288.7L52.9 290.68L50.37 288.7Z" class="o d"/><path d="M52.43 288.13L56.17 291.87M52.43 291.87L56.17 288.13" class="l"/><path d="M63.1 258.12L65.63 260.1L63.1 262.08L60.57 260.1Z" class="o d"/><path d="M65.9 253.42L68.43 255.4L65.9 257.38L63.37 255.4Z" class="o d"/><path d="M65 252.82L67.53 254.8L65 256.78L62.47 254.8Z" class="o d"/><path d="M61.8 278.78L64.55 283.01L59.05 283.01Z" class="o"/><path d="M61.19 281.5H65.81M63.5 279.19V283.81" class="l"/><path d="M64.89 278.5H69.51M67.2 276.19V280.81" class="l"/><path d="M74 264.48L76.75 268.71L71.25 268.71Z" class="o"/><path d="M75.4 261.08L78.15 265.31L72.65 265.31Z" class="o"/><path d="M77.3 248.92L79.83 250.9L77.3 252.88L74.77 250.9Z" class="o d"/><path d="M76.3 251.5H80.7M78.5 249.3V253.7M76.92 249.92L80.08 253.08M76.92 253.08L80.08 249.92" class="l"/><path d="M79.5 254.02L82.03 256L79.5 257.98L76.97 256Z" class="o d"/><path d="M80.7 254.02L83.23 256L80.7 257.98L78.17 256Z" class="o d"/><path d="M91.4 229.6H95.8M93.6 227.4V231.8M92.02 228.02L95.18 231.18M92.02 231.18L95.18 228.02" class="l"/><path d="M91.03 230.93L94.77 234.67M91.03 234.67L94.77 230.93" class="l"/><path d="M92.33 229.13L96.07 232.87M92.33 232.87L96.07 229.13" class="l"/><path d="M99.4 220.52L101.93 222.5L99.4 224.48L96.87 222.5Z" class="o d"/><path d="M107.8 219.82L110.33 221.8L107.8 223.78L105.27 221.8Z" class="o d"/><path d="M111 219.82L113.53 221.8L111 223.78L108.47 221.8Z" class="o d"/><rect x="104.36" y="223.34" width="4.29" height="3.52" class="o"/><path d="M105.33 225.73L109.07 229.47M105.33 229.47L109.07 225.73" class="l"/><path d="M107.23 224.43L110.97 228.17M107.23 228.17L110.97 224.43" class="l"/><rect x="103.76" y="231.04" width="4.29" height="3.52" class="o"/><rect x="108.26" y="232.34" width="4.29" height="3.52" class="o"/><rect x="109.56" y="235.54" width="4.29" height="3.52" class="o"/><path d="M113.6 234.72L116.13 236.7L113.6 238.68L111.07 236.7Z" class="o d"/><rect x="106.95" y="239.44" width="4.29" height="3.52" class="o"/><rect x="108.86" y="241.44" width="4.29" height="3.52" class="o"/><rect x="110.86" y="245.94" width="4.29" height="3.52" class="o"/><path d="M116.49 243.8H121.11M118.8 241.49V246.11" class="l"/><rect x="112.16" y="251.14" width="4.29" height="3.52" class="o"/><rect x="113.86" y="252.94" width="4.29" height="3.52" class="o"/><path d="M115.33 254.63L119.07 258.37M115.33 258.37L119.07 254.63" class="l"/><path d="M118.23 250.33L121.97 254.07M118.23 254.07L121.97 250.33" class="l"/><rect x="116.66" y="251.74" width="4.29" height="3.52" class="o"/><path d="M120.8 260.22L123.33 262.2L120.8 264.18L118.27 262.2Z" class="o d"/><path d="M123.5 264.92L126.03 266.9L123.5 268.88L120.97 266.9Z" class="o d"/><path d="M118.6 269H123M120.8 266.8V271.2M119.22 267.42L122.38 270.58M119.22 270.58L122.38 267.42" class="l"/><path d="M122 262.02L124.53 264L122 265.98L119.47 264Z" class="o d"/><rect x="128.16" y="284.94" width="4.29" height="3.52" class="o"/><rect x="131.55" y="284.94" width="4.29" height="3.52" class="o"/><path d="M130.79 271.7H135.41M133.1 269.39V274.01" class="l"/><path d="M133.63 273.23L137.37 276.97M133.63 276.97L137.37 273.23" class="l"/><path d="M140.7 290.38L143.45 294.62L137.95 294.62Z" class="o"/><rect x="139.95" y="284.94" width="4.29" height="3.52" class="o"/><rect x="141.25" y="281.54" width="4.29" height="3.52" class="o"/><rect x="143.35" y="279.44" width="4.29" height="3.52" class="o"/><rect x="144.66" y="277.44" width="4.29" height="3.52" class="o"/><path d="M149.03 284.13L152.77 287.87M149.03 287.87L152.77 284.13" class="l"/><path d="M150.43 280.03L154.17 283.77M150.43 283.77L154.17 280.03" class="l"/><rect x="152.85" y="265.84" width="4.29" height="3.52" class="o"/><rect x="154.85" y="265.84" width="4.29" height="3.52" class="o"/><rect x="156.95" y="265.84" width="4.29" height="3.52" class="o"/><rect x="154.85" y="262.44" width="4.29" height="3.52" class="o"/><rect x="158.25" y="260.44" width="4.29" height="3.52" class="o"/><rect x="161.05" y="258.34" width="4.29" height="3.52" class="o"/><rect x="163.05" y="256.34" width="4.29" height="3.52" class="o"/><rect x="165.16" y="254.24" width="4.29" height="3.52" class="o"/><path d="M166.73 257.53L170.47 261.27M166.73 261.27L170.47 257.53" class="l"/><rect x="167.85" y="253.64" width="4.29" height="3.52" class="o"/><path d="M168.1 250.9H172.5M170.3 248.7V253.1M168.72 249.32L171.88 252.48M168.72 252.48L171.88 249.32" class="l"/><rect x="174.66" y="230.44" width="4.29" height="3.52" class="o"/><rect x="177.25" y="223.94" width="4.29" height="3.52" class="o"/><rect x="177.25" y="227.14" width="4.29" height="3.52" class="o"/><path d="M181 228.02L183.53 230L181 231.98L178.47 230Z" class="o d"/><path d="M180.4 236.7H184.8M182.6 234.5V238.9M181.02 235.12L184.18 238.28M181.02 238.28L184.18 235.12" class="l"/><rect x="181.75" y="230.44" width="4.29" height="3.52" class="o"/><rect x="179.85" y="226.24" width="4.29" height="3.52" class="o"/><circle cx="191" cy="232.8" r="1.98" fill="#000"/><rect x="188.25" y="237.54" width="4.29" height="3.52" class="o"/><rect x="187.35" y="234.24" width="4.29" height="3.52" class="o"/><path d="M190.69 238H195.31M193 235.69V240.31" class="l"/></g>
<g clip-path="url(#c32)"><path d="" stroke="#444" stroke-width="1.2" fill="none"/><path d="M227.5 252.7V264M228.7 251V259M230.3 245.4V258.3M229.5 250V258M230.8 252V260M232.7 249.4V264.8M232 250V258M231.5 254V262M234.3 259.1V270.5M236.8 261.6V276.1M237.6 259V268M238.5 261V269M238.9 255.9V273.7M242.4 252.7V267.2M244.8 251V265.6M247 254.3V269.6M247.5 258V266M248.9 258V265M250 260V268.8M251.3 247.8V267.2M249.5 262V270M253.7 252.7V265.6M255.4 253V263M256.2 254.3V272.9M257.8 249.4V262.4M259.4 250.2V262.4M263.5 253V263M264.3 251V264M270.7 243.8V259.9M271.3 247V256M280.4 244.6V264.8M281.6 243.8V265.6M282.4 247V254M281.6 251V258M281.6 254V261M292.1 236.5V255.1M291.7 245V252M302.7 236.5V255.9M301.8 245V252M311.6 259.1V273.7M321.3 252.7V271.3M320.5 260V268M326.9 252.7V269.6M326.1 260V267M328.5 256V264M335.8 250.2V269.6M335 260V267M345.3 242V259.8M344.5 250V257M353.4 244.4V259.8M354.2 243.6V257.4M359 239.6V257.4M359.8 247V255M365.5 232.3V256.6M367.1 246V254M368.7 249.3V264.6M371.2 247.7V262.4M375.2 243.6V257.4M376.4 247V254M381.7 240.4V253.3M385.7 253.3V267.9M389 255.7V269.5" stroke="#000" stroke-width="1.3" fill="none"/><g style="--c:#555" class="gs"></g><path d="M228.7 253.12L231.23 255.1L228.7 257.08L226.17 255.1Z" class="o d"/><circle cx="229.5" cy="254" r="1.98" fill="#000"/><path d="M228.6 255.9H233M230.8 253.7V258.1M229.22 254.32L232.38 257.48M229.22 257.48L232.38 254.32" class="l"/><path d="M232 252.02L234.53 254L232 255.98L229.47 254Z" class="o d"/><path d="M231.5 256.08L234.25 260.31L228.75 260.31Z" class="o"/><path d="M237.6 260.78L240.35 265.01L234.85 265.01Z" class="o"/><path d="M236.63 263.13L240.37 266.87M236.63 266.87L240.37 263.13" class="l"/><path d="M247.5 259.58L250.25 263.81L244.75 263.81Z" class="o"/><path d="M248.9 259.18L251.65 263.42L246.15 263.42Z" class="o"/><path d="M247.8 264H252.2M250 261.8V266.2M248.42 262.42L251.58 265.58M248.42 265.58L251.58 262.42" class="l"/><path d="M253.09 258.3H257.71M255.4 255.99V260.61" class="l"/><path d="M257.8 252.68L260.55 256.92L255.05 256.92Z" class="o"/><path d="M261.19 258.3H265.81M263.5 255.99V260.61" class="l"/><path d="M270.7 248.22L273.23 250.2L270.7 252.18L268.17 250.2Z" class="o d"/><path d="M269.43 249.63L273.17 253.37M269.43 253.37L273.17 249.63" class="l"/><path d="M280.4 252.32L282.93 254.3L280.4 256.28L277.87 254.3Z" class="o d"/><path d="M282.4 247.78L285.15 252.01L279.65 252.01Z" class="o"/><path d="M281.6 252.32L284.13 254.3L281.6 256.28L279.07 254.3Z" class="o d"/><path d="M281.6 255.52L284.13 257.5L281.6 259.48L279.07 257.5Z" class="o d"/><path d="M289.79 242.9H294.41M292.1 240.59V245.21" class="l"/><path d="M289.83 246.73L293.57 250.47M289.83 250.47L293.57 246.73" class="l"/><path d="M300.39 242.9H305.01M302.7 240.59V245.21" class="l"/><path d="M301.8 246.62L304.33 248.6L301.8 250.58L299.27 248.6Z" class="o d"/><path d="M311.6 264.42L314.13 266.4L311.6 268.38L309.07 266.4Z" class="o d"/><path d="M321.3 257.12L323.83 259.1L321.3 261.08L318.77 259.1Z" class="o d"/><path d="M320.5 262.02L323.03 264L320.5 265.98L317.97 264Z" class="o d"/><path d="M326.9 257.92L329.43 259.9L326.9 261.88L324.37 259.9Z" class="o d"/><path d="M326.1 261.22L328.63 263.2L326.1 265.18L323.57 263.2Z" class="o d"/><path d="M326.19 259.9H330.81M328.5 257.59V262.21" class="l"/><path d="M335.8 254.72L338.33 256.7L335.8 258.68L333.27 256.7Z" class="o d"/><path d="M335 261.22L337.53 263.2L335 265.18L332.47 263.2Z" class="o d"/><path d="M345.3 246.52L347.83 248.5L345.3 250.48L342.77 248.5Z" class="o d"/><path d="M344.5 251.32L347.03 253.3L344.5 255.28L341.97 253.3Z" class="o d"/><path d="M359 244.02L361.53 246L359 247.98L356.47 246Z" class="o d"/><path d="M359.8 248.92L362.33 250.9L359.8 252.88L357.27 250.9Z" class="o d"/><path d="M367.1 248.12L369.63 250.1L367.1 252.08L364.57 250.1Z" class="o d"/><path d="M368.7 254.62L371.23 256.6L368.7 258.58L366.17 256.6Z" class="o d"/><path d="M375.2 248.12L377.73 250.1L375.2 252.08L372.67 250.1Z" class="o d"/><circle cx="376.4" cy="250.5" r="1.98" fill="#000"/><path d="M381.7 244.38L384.45 248.62L378.95 248.62Z" class="o"/></g>
<g clip-path="url(#c33)"><path d="M437.6 269.2V276M436.5 278.2V286.2M443.9 260.1V266.9M448.9 263.5V272.6M478.5 238V246M480.9 240V249M479.5 242V249.3" stroke="#444" stroke-width="1.2" fill="none"/><path d="M431.2 262.4V271.4M428.5 273.7V283.9M429 286V293.5M429.7 284V291M428.3 281V290M450 246.5V257.8M451.2 251V261M453 240V249M461.5 240.4V249.3M462.5 240V246M463.9 232V241M468.8 238V247M468.8 241V248M474.4 240V248.5M474.4 247.6V255M476 248.5V256M483.3 229V241.2M484.9 229.8V239.6M490.6 233V241.2M484.9 249.3V259M492.7 243V250M494 246V253M493.5 249V255M495.3 246.5V253.5M489 258V264.7M488.2 263.8V275M510.8 267V278.5M510.7 266V274M512.5 272V279M509.5 270V277M511.5 274V281M519.6 267V275M520.5 265V272M518.7 270V277M521.4 261V267M524.9 254V261.5M526.7 253V259M531.1 246V253M532 250V256.5M532 262V269M533.5 256V264M535.6 254V262M535.6 258V264M537.5 253V260M538.3 237.5V246M539 235V242M540 251V257.5M540.9 240V247M541.2 243V250M542.7 253.5V260M544 256V263M544.6 247V255M545.8 241V248M546.3 240V247M546.9 237.5V246.5M549.7 250V256M549.8 248.5V255M551.4 241V248M551.7 254.5V261M552.5 244V250M552.6 241.5V251M554.6 244V250.5M555.5 227.7V245.2M556.5 231V238M557.5 236V243M558.2 237V244M560.4 244V250.5M561.4 247V253.5M562.3 252.5V259M563.3 228.7V237.5M563.3 236V243M564.3 257.5V264M565.5 238V246M568.2 238V245M570.1 228.7V249.1M576.5 221V239.4M577.9 235V242M578.8 241V248M574 236.5V278.3M574.6 256V264M572 270.5V283.5M583.1 247.2V256M584.7 255.9V261.7M580.8 255V268.5M590.9 256V263.5M594 257V264.5M589.5 262V269M591.5 263V270M593.4 267V274M592.4 269.5V278.3" stroke="#000" stroke-width="1.3" fill="none"/><g style="--c:#555" class="gs"><rect x="476.36" y="240.24" width="4.29" height="3.52" class="o"/><rect x="478.75" y="242.64" width="4.29" height="3.52" class="o"/><rect x="477.36" y="244.24" width="4.29" height="3.52" class="o"/></g><path d="M431.2 264.92L433.73 266.9L431.2 268.88L428.67 266.9Z" class="o d"/><path d="M428.5 276.92L431.03 278.9L428.5 280.88L425.97 278.9Z" class="o d"/><rect x="426.86" y="287.84" width="4.29" height="3.52" class="o"/><rect x="427.56" y="285.54" width="4.29" height="3.52" class="o"/><path d="M426.43 283.13L430.17 286.87M426.43 286.87L430.17 283.13" class="l"/><path d="M447.69 252.2H452.31M450 249.89V254.51" class="l"/><path d="M449.33 253.73L453.07 257.47M449.33 257.47L453.07 253.73" class="l"/><path d="M450.69 244.3H455.31M453 241.99V246.61" class="l"/><path d="M459.19 244.4H463.81M461.5 242.09V246.71" class="l"/><path d="M460.3 243.1H464.7M462.5 240.9V245.3M460.92 241.52L464.08 244.68M460.92 244.68L464.08 241.52" class="l"/><path d="M461.59 236.3H466.21M463.9 233.99V238.61" class="l"/><rect x="466.66" y="239.44" width="4.29" height="3.52" class="o"/><rect x="466.66" y="242.64" width="4.29" height="3.52" class="o"/><path d="M472.09 243.6H476.71M474.4 241.29V245.91" class="l"/><path d="M472.09 250.9H476.71M474.4 248.59V253.21" class="l"/><path d="M473.69 252.5H478.31M476 250.19V254.81" class="l"/><path d="M480.99 235H485.61M483.3 232.69V237.31" class="l"/><path d="M488.4 237.1H492.8M490.6 234.9V239.3M489.02 235.52L492.18 238.68M489.02 238.68L492.18 235.52" class="l"/><path d="M482.59 254.1H487.21M484.9 251.79V256.41" class="l"/><circle cx="492.7" cy="246.5" r="1.98" fill="#000"/><circle cx="494" cy="249.5" r="1.98" fill="#000"/><path d="M493.5 250.52L496.03 252.5L493.5 254.48L490.97 252.5Z" class="o d"/><circle cx="495.3" cy="250" r="1.98" fill="#000"/><path d="M486.8 261.4H491.2M489 259.2V263.6M487.42 259.82L490.58 262.98M487.42 262.98L490.58 259.82" class="l"/><path d="M485.89 268.7H490.51M488.2 266.39V271.01" class="l"/><path d="M508.6 271.1H513M510.8 268.9V273.3M509.22 269.52L512.38 272.68M509.22 272.68L512.38 269.52" class="l"/><path d="M510.7 267.78L513.45 272.01L507.95 272.01Z" class="o"/><circle cx="512.5" cy="275.6" r="1.98" fill="#000"/><path d="M507.3 273.5H511.7M509.5 271.3V275.7M507.92 271.92L511.08 275.08M507.92 275.08L511.08 271.92" class="l"/><path d="M511.5 275.52L514.03 277.5L511.5 279.48L508.97 277.5Z" class="o d"/><path d="M519.6 268.68L522.35 272.92L516.85 272.92Z" class="o"/><path d="M518.3 268.5H522.7M520.5 266.3V270.7M518.92 266.92L522.08 270.08M518.92 270.08L522.08 266.92" class="l"/><path d="M518.7 271.38L521.45 275.62L515.95 275.62Z" class="o"/><rect x="519.25" y="262.24" width="4.29" height="3.52" class="o"/><path d="M522.7 257.8H527.1M524.9 255.6V260M523.32 256.22L526.48 259.38M523.32 259.38L526.48 256.22" class="l"/><path d="M524.5 256H528.9M526.7 253.8V258.2M525.12 254.42L528.28 257.58M525.12 257.58L528.28 254.42" class="l"/><rect x="528.96" y="248.04" width="4.29" height="3.52" class="o"/><rect x="529.86" y="251.54" width="4.29" height="3.52" class="o"/><path d="M532 263.82L534.53 265.8L532 267.78L529.47 265.8Z" class="o d"/><circle cx="533.5" cy="260" r="1.98" fill="#000"/><path d="M535.6 255.38L538.35 259.62L532.85 259.62Z" class="o"/><path d="M535.6 259.22L538.13 261.2L535.6 263.18L533.07 261.2Z" class="o d"/><circle cx="537.5" cy="256.5" r="1.98" fill="#000"/><path d="M538.3 239.38L541.05 243.62L535.55 243.62Z" class="o"/><path d="M539 236.18L541.75 240.41L536.25 240.41Z" class="o"/><rect x="537.86" y="252.44" width="4.29" height="3.52" class="o"/><path d="M538.7 243.6H543.1M540.9 241.4V245.8M539.32 242.02L542.48 245.18M539.32 245.18L542.48 242.02" class="l"/><path d="M539.33 244.63L543.07 248.37M539.33 248.37L543.07 244.63" class="l"/><rect x="540.56" y="255.14" width="4.29" height="3.52" class="o"/><rect x="541.86" y="257.74" width="4.29" height="3.52" class="o"/><path d="M544.6 249.02L547.13 251L544.6 252.98L542.07 251Z" class="o d"/><path d="M545.8 242.32L548.33 244.3L545.8 246.28L543.27 244.3Z" class="o d"/><path d="M546.3 241.18L549.05 245.41L543.55 245.41Z" class="o"/><path d="M544.59 242H549.21M546.9 239.69V244.31" class="l"/><rect x="547.56" y="251.24" width="4.29" height="3.52" class="o"/><rect x="547.65" y="249.84" width="4.29" height="3.52" class="o"/><path d="M551.4 241.88L554.15 246.12L548.65 246.12Z" class="o"/><rect x="549.56" y="256.14" width="4.29" height="3.52" class="o"/><path d="M552.5 245.12L555.03 247.1L552.5 249.08L549.97 247.1Z" class="o d"/><path d="M552.6 242.78L555.35 247.01L549.85 247.01Z" class="o"/><path d="M554.6 245.22L557.13 247.2L554.6 249.18L552.07 247.2Z" class="o d"/><path d="M555.5 228.28L558.25 232.51L552.75 232.51Z" class="o"/><path d="M556.5 232.18L559.25 236.41L553.75 236.41Z" class="o"/><path d="M555.3 239.4H559.7M557.5 237.2V241.6M555.92 237.82L559.08 240.98M555.92 240.98L559.08 237.82" class="l"/><path d="M556 240.9H560.4M558.2 238.7V243.1M556.62 239.32L559.78 242.48M556.62 242.48L559.78 239.32" class="l"/><path d="M560.4 244.78L563.15 249.01L557.65 249.01Z" class="o"/><rect x="559.25" y="248.34" width="4.29" height="3.52" class="o"/><rect x="560.15" y="254.14" width="4.29" height="3.52" class="o"/><path d="M563.3 230.62L565.83 232.6L563.3 234.58L560.77 232.6Z" class="o d"/><path d="M563.3 237.42L565.83 239.4L563.3 241.38L560.77 239.4Z" class="o d"/><rect x="562.15" y="259.04" width="4.29" height="3.52" class="o"/><rect x="563.36" y="240.24" width="4.29" height="3.52" class="o"/><path d="M566 241.4H570.4M568.2 239.2V243.6M566.62 239.82L569.78 242.98M566.62 242.98L569.78 239.82" class="l"/><path d="M570.1 230.62L572.63 232.6L570.1 234.58L567.57 232.6Z" class="o d"/><circle cx="576.5" cy="229.7" r="1.98" fill="#000"/><path d="M577.9 235.98L580.65 240.22L575.15 240.22Z" class="o"/><path d="M578.8 241.88L581.55 246.12L576.05 246.12Z" class="o"/><circle cx="574.6" cy="259.8" r="1.98" fill="#000"/><circle cx="572" cy="277.3" r="1.98" fill="#000"/><path d="M583.1 249.12L585.63 251.1L583.1 253.08L580.57 251.1Z" class="o d"/><path d="M584.7 256.82L587.23 258.8L584.7 260.78L582.17 258.8Z" class="o d"/><path d="M590.9 257.38L593.65 261.62L588.15 261.62Z" class="o"/><path d="M594 258.38L596.75 262.62L591.25 262.62Z" class="o"/><path d="M587.3 265.6H591.7M589.5 263.4V267.8M587.92 264.02L591.08 267.18M587.92 267.18L591.08 264.02" class="l"/><path d="M591.5 264.18L594.25 268.42L588.75 268.42Z" class="o"/><circle cx="593.4" cy="270.5" r="1.98" fill="#000"/><path d="M592.4 274.32L594.93 276.3L592.4 278.28L589.87 276.3Z" class="o d"/></g>
<rect x="23.4" y="9.3" width="174.1" height="76.5" fill="none" stroke="#000" stroke-width="1.2"/>
<path d="M28.24 85.8v-0.9M28.24 9.3v0.9M37.91 85.8v-0.9M37.91 9.3v0.9M47.58 85.8v-0.9M47.58 9.3v0.9M57.25 85.8v-0.9M57.25 9.3v0.9M66.92 85.8v-0.9M66.92 9.3v0.9M76.6 85.8v-0.9M76.6 9.3v0.9M86.27 85.8v-0.9M86.27 9.3v0.9M95.94 85.8v-0.9M95.94 9.3v0.9M105.61 85.8v-0.9M105.61 9.3v0.9M115.29 85.8v-0.9M115.29 9.3v0.9M124.96 85.8v-0.9M124.96 9.3v0.9M134.63 85.8v-0.9M134.63 9.3v0.9M144.3 85.8v-0.9M144.3 9.3v0.9M153.97 85.8v-0.9M153.97 9.3v0.9M163.65 85.8v-0.9M163.65 9.3v0.9M173.32 85.8v-0.9M173.32 9.3v0.9M182.99 85.8v-0.9M182.99 9.3v0.9M192.66 85.8v-0.9M192.66 9.3v0.9M47.58 85.8v-1.7M47.58 9.3v1.7M95.94 85.8v-1.7M95.94 9.3v1.7M144.3 85.8v-1.7M144.3 9.3v1.7M192.66 85.8v-1.7M192.66 9.3v1.7M23.4 85.64h1.7M197.5 85.64h-1.7M23.4 84.06h1.7M197.5 84.06h-1.7M23.4 82.48h1.7M197.5 82.48h-1.7M23.4 80.9h1.7M197.5 80.9h-1.7M23.4 79.32h1.7M197.5 79.32h-1.7M23.4 77.74h1.7M197.5 77.74h-1.7M23.4 76.16h1.7M197.5 76.16h-1.7M23.4 74.58h1.7M197.5 74.58h-1.7M23.4 73h1.7M197.5 73h-1.7M23.4 71.42h1.7M197.5 71.42h-1.7M23.4 69.84h1.7M197.5 69.84h-1.7M23.4 68.26h1.7M197.5 68.26h-1.7M23.4 66.67h1.7M197.5 66.67h-1.7M23.4 65.09h1.7M197.5 65.09h-1.7M23.4 63.51h1.7M197.5 63.51h-1.7M23.4 61.93h1.7M197.5 61.93h-1.7M23.4 60.35h1.7M197.5 60.35h-1.7M23.4 58.77h1.7M197.5 58.77h-1.7M23.4 57.19h1.7M197.5 57.19h-1.7M23.4 55.61h1.7M197.5 55.61h-1.7M23.4 54.03h1.7M197.5 54.03h-1.7M23.4 52.45h1.7M197.5 52.45h-1.7M23.4 50.87h1.7M197.5 50.87h-1.7M23.4 49.29h1.7M197.5 49.29h-1.7M23.4 47.71h1.7M197.5 47.71h-1.7M23.4 46.13h1.7M197.5 46.13h-1.7M23.4 44.55h1.7M197.5 44.55h-1.7M23.4 42.97h1.7M197.5 42.97h-1.7M23.4 41.39h1.7M197.5 41.39h-1.7M23.4 39.81h1.7M197.5 39.81h-1.7M23.4 38.22h1.7M197.5 38.22h-1.7M23.4 36.64h1.7M197.5 36.64h-1.7M23.4 35.06h1.7M197.5 35.06h-1.7M23.4 33.48h1.7M197.5 33.48h-1.7M23.4 31.9h1.7M197.5 31.9h-1.7M23.4 30.32h1.7M197.5 30.32h-1.7M23.4 28.74h1.7M197.5 28.74h-1.7M23.4 27.16h1.7M197.5 27.16h-1.7M23.4 25.58h1.7M197.5 25.58h-1.7M23.4 24h1.7M197.5 24h-1.7M23.4 22.42h1.7M197.5 22.42h-1.7M23.4 20.84h1.7M197.5 20.84h-1.7M23.4 19.26h1.7M197.5 19.26h-1.7M23.4 17.68h1.7M197.5 17.68h-1.7M23.4 16.1h1.7M197.5 16.1h-1.7M23.4 14.52h1.7M197.5 14.52h-1.7M23.4 12.94h1.7M197.5 12.94h-1.7M23.4 11.35h1.7M197.5 11.35h-1.7M23.4 9.77h1.7M197.5 9.77h-1.7M23.4 68.26h3.6M197.5 68.26h-3.6M23.4 52.45h3.6M197.5 52.45h-3.6M23.4 36.64h3.6M197.5 36.64h-3.6M23.4 20.84h3.6M197.5 20.84h-3.6" stroke="#000" stroke-width="0.6" fill="none"/>
<g font-size="5.6" fill="#000"><text x="47.58" y="93" text-anchor="middle">5</text><text x="95.94" y="93" text-anchor="middle">10</text><text x="144.3" y="93" text-anchor="middle">15</text><text x="192.66" y="93" text-anchor="middle">20</text><text x="22.2" y="70.26" text-anchor="end">10</text><text x="22.2" y="54.45" text-anchor="end">20</text><text x="22.2" y="38.64" text-anchor="end">30</text><text x="22.2" y="22.84" text-anchor="end">40</text><text x="110.45" y="98.6" text-anchor="middle">Hours</text><text transform="translate(11,47.55) rotate(-90)" text-anchor="middle" font-size="5.6">Lomb-normalized Spectral Power</text></g>
<text x="110.45" y="7.1" text-anchor="middle" font-size="7.0">(120178) 2003OP32</text>
<rect x="223.7" y="9.3" width="174" height="76.3" fill="none" stroke="#000" stroke-width="1.2"/>
<path d="M228.53 85.6v-0.9M228.53 9.3v0.9M238.2 85.6v-0.9M238.2 9.3v0.9M247.87 85.6v-0.9M247.87 9.3v0.9M257.53 85.6v-0.9M257.53 9.3v0.9M267.2 85.6v-0.9M267.2 9.3v0.9M276.87 85.6v-0.9M276.87 9.3v0.9M286.53 85.6v-0.9M286.53 9.3v0.9M296.2 85.6v-0.9M296.2 9.3v0.9M305.87 85.6v-0.9M305.87 9.3v0.9M315.53 85.6v-0.9M315.53 9.3v0.9M325.2 85.6v-0.9M325.2 9.3v0.9M334.87 85.6v-0.9M334.87 9.3v0.9M344.53 85.6v-0.9M344.53 9.3v0.9M354.2 85.6v-0.9M354.2 9.3v0.9M363.87 85.6v-0.9M363.87 9.3v0.9M373.53 85.6v-0.9M373.53 9.3v0.9M383.2 85.6v-0.9M383.2 9.3v0.9M392.87 85.6v-0.9M392.87 9.3v0.9M247.87 85.6v-1.7M247.87 9.3v1.7M296.2 85.6v-1.7M296.2 9.3v1.7M344.53 85.6v-1.7M344.53 9.3v1.7M392.87 85.6v-1.7M392.87 9.3v1.7M223.7 84.88h1.7M397.7 84.88h-1.7M223.7 82.97h1.7M397.7 82.97h-1.7M223.7 81.06h1.7M397.7 81.06h-1.7M223.7 79.14h1.7M397.7 79.14h-1.7M223.7 77.23h1.7M397.7 77.23h-1.7M223.7 75.32h1.7M397.7 75.32h-1.7M223.7 73.4h1.7M397.7 73.4h-1.7M223.7 71.49h1.7M397.7 71.49h-1.7M223.7 69.57h1.7M397.7 69.57h-1.7M223.7 67.66h1.7M397.7 67.66h-1.7M223.7 65.75h1.7M397.7 65.75h-1.7M223.7 63.83h1.7M397.7 63.83h-1.7M223.7 61.92h1.7M397.7 61.92h-1.7M223.7 60.01h1.7M397.7 60.01h-1.7M223.7 58.09h1.7M397.7 58.09h-1.7M223.7 56.18h1.7M397.7 56.18h-1.7M223.7 54.27h1.7M397.7 54.27h-1.7M223.7 52.35h1.7M397.7 52.35h-1.7M223.7 50.44h1.7M397.7 50.44h-1.7M223.7 48.53h1.7M397.7 48.53h-1.7M223.7 46.61h1.7M397.7 46.61h-1.7M223.7 44.7h1.7M397.7 44.7h-1.7M223.7 42.79h1.7M397.7 42.79h-1.7M223.7 40.87h1.7M397.7 40.87h-1.7M223.7 38.96h1.7M397.7 38.96h-1.7M223.7 37.05h1.7M397.7 37.05h-1.7M223.7 35.13h1.7M397.7 35.13h-1.7M223.7 33.22h1.7M397.7 33.22h-1.7M223.7 31.31h1.7M397.7 31.31h-1.7M223.7 29.39h1.7M397.7 29.39h-1.7M223.7 27.48h1.7M397.7 27.48h-1.7M223.7 25.56h1.7M397.7 25.56h-1.7M223.7 23.65h1.7M397.7 23.65h-1.7M223.7 21.74h1.7M397.7 21.74h-1.7M223.7 19.82h1.7M397.7 19.82h-1.7M223.7 17.91h1.7M397.7 17.91h-1.7M223.7 16h1.7M397.7 16h-1.7M223.7 14.08h1.7M397.7 14.08h-1.7M223.7 12.17h1.7M397.7 12.17h-1.7M223.7 10.26h1.7M397.7 10.26h-1.7M223.7 73.4h3.6M397.7 73.4h-3.6M223.7 63.83h3.6M397.7 63.83h-3.6M223.7 54.27h3.6M397.7 54.27h-3.6M223.7 44.7h3.6M397.7 44.7h-3.6M223.7 35.13h3.6M397.7 35.13h-3.6M223.7 25.56h3.6M397.7 25.56h-3.6M223.7 16h3.6M397.7 16h-3.6" stroke="#000" stroke-width="0.6" fill="none"/>
<g font-size="5.6" fill="#000"><text x="247.87" y="92.8" text-anchor="middle">5</text><text x="296.2" y="92.8" text-anchor="middle">10</text><text x="344.53" y="92.8" text-anchor="middle">15</text><text x="392.87" y="92.8" text-anchor="middle">20</text><text x="222.5" y="75.4" text-anchor="end">2</text><text x="222.5" y="65.83" text-anchor="end">4</text><text x="222.5" y="56.27" text-anchor="end">6</text><text x="222.5" y="46.7" text-anchor="end">8</text><text x="222.5" y="37.13" text-anchor="end">10</text><text x="222.5" y="27.56" text-anchor="end">12</text><text x="222.5" y="18" text-anchor="end">14</text><text x="310.7" y="98.4" text-anchor="middle">Hours</text><text transform="translate(211.3,47.45) rotate(-90)" text-anchor="middle" font-size="5.6">Lomb-normalized Spectral Power</text></g>
<text x="310.7" y="7.1" text-anchor="middle" font-size="7.0">(145452) 2005RN43</text>
<rect x="424" y="8.5" width="174.2" height="76.7" fill="none" stroke="#000" stroke-width="1.2"/>
<path d="M428.84 85.2v-0.9M428.84 8.5v0.9M438.52 85.2v-0.9M438.52 8.5v0.9M448.19 85.2v-0.9M448.19 8.5v0.9M457.87 85.2v-0.9M457.87 8.5v0.9M467.55 85.2v-0.9M467.55 8.5v0.9M477.23 85.2v-0.9M477.23 8.5v0.9M486.91 85.2v-0.9M486.91 8.5v0.9M496.58 85.2v-0.9M496.58 8.5v0.9M506.26 85.2v-0.9M506.26 8.5v0.9M515.94 85.2v-0.9M515.94 8.5v0.9M525.62 85.2v-0.9M525.62 8.5v0.9M535.29 85.2v-0.9M535.29 8.5v0.9M544.97 85.2v-0.9M544.97 8.5v0.9M554.65 85.2v-0.9M554.65 8.5v0.9M564.33 85.2v-0.9M564.33 8.5v0.9M574.01 85.2v-0.9M574.01 8.5v0.9M583.68 85.2v-0.9M583.68 8.5v0.9M593.36 85.2v-0.9M593.36 8.5v0.9M448.19 85.2v-1.7M448.19 8.5v1.7M496.58 85.2v-1.7M496.58 8.5v1.7M544.97 85.2v-1.7M544.97 8.5v1.7M593.36 85.2v-1.7M593.36 8.5v1.7M424 83.99h1.7M598.2 83.99h-1.7M424 81.57h1.7M598.2 81.57h-1.7M424 79.15h1.7M598.2 79.15h-1.7M424 76.73h1.7M598.2 76.73h-1.7M424 74.31h1.7M598.2 74.31h-1.7M424 71.89h1.7M598.2 71.89h-1.7M424 69.47h1.7M598.2 69.47h-1.7M424 67.05h1.7M598.2 67.05h-1.7M424 64.63h1.7M598.2 64.63h-1.7M424 62.21h1.7M598.2 62.21h-1.7M424 59.79h1.7M598.2 59.79h-1.7M424 57.38h1.7M598.2 57.38h-1.7M424 54.96h1.7M598.2 54.96h-1.7M424 52.54h1.7M598.2 52.54h-1.7M424 50.12h1.7M598.2 50.12h-1.7M424 47.7h1.7M598.2 47.7h-1.7M424 45.28h1.7M598.2 45.28h-1.7M424 42.86h1.7M598.2 42.86h-1.7M424 40.44h1.7M598.2 40.44h-1.7M424 38.02h1.7M598.2 38.02h-1.7M424 35.6h1.7M598.2 35.6h-1.7M424 33.18h1.7M598.2 33.18h-1.7M424 30.76h1.7M598.2 30.76h-1.7M424 28.34h1.7M598.2 28.34h-1.7M424 25.92h1.7M598.2 25.92h-1.7M424 23.5h1.7M598.2 23.5h-1.7M424 21.08h1.7M598.2 21.08h-1.7M424 18.66h1.7M598.2 18.66h-1.7M424 16.24h1.7M598.2 16.24h-1.7M424 13.82h1.7M598.2 13.82h-1.7M424 11.4h1.7M598.2 11.4h-1.7M424 8.98h1.7M598.2 8.98h-1.7M424 71.89h3.6M598.2 71.89h-3.6M424 59.79h3.6M598.2 59.79h-3.6M424 47.7h3.6M598.2 47.7h-3.6M424 35.6h3.6M598.2 35.6h-3.6M424 23.5h3.6M598.2 23.5h-3.6M424 11.4h3.6M598.2 11.4h-3.6" stroke="#000" stroke-width="0.6" fill="none"/>
<g font-size="5.6" fill="#000"><text x="448.19" y="92.4" text-anchor="middle">5</text><text x="496.58" y="92.4" text-anchor="middle">10</text><text x="544.97" y="92.4" text-anchor="middle">15</text><text x="593.36" y="92.4" text-anchor="middle">20</text><text x="422.8" y="73.89" text-anchor="end">5</text><text x="422.8" y="61.79" text-anchor="end">10</text><text x="422.8" y="49.7" text-anchor="end">15</text><text x="422.8" y="37.6" text-anchor="end">20</text><text x="422.8" y="25.5" text-anchor="end">25</text><text x="422.8" y="13.4" text-anchor="end">30</text><text x="511.1" y="98" text-anchor="middle">Hours</text><text transform="translate(411.6,46.85) rotate(-90)" text-anchor="middle" font-size="5.6">Lomb-normalized Spectral Power</text></g>
<text x="511.1" y="6.3" text-anchor="middle" font-size="7.0">(278361) 2007JJ43</text>
<rect x="23.4" y="113.6" width="174.1" height="76" fill="none" stroke="#000" stroke-width="1.2"/>
<path d="M23.54 189.6v-0.9M23.54 113.6v0.9M26.99 189.6v-0.9M26.99 113.6v0.9M30.44 189.6v-0.9M30.44 113.6v0.9M33.89 189.6v-0.9M33.89 113.6v0.9M37.34 189.6v-0.9M37.34 113.6v0.9M40.8 189.6v-0.9M40.8 113.6v0.9M44.25 189.6v-0.9M44.25 113.6v0.9M47.7 189.6v-0.9M47.7 113.6v0.9M51.15 189.6v-0.9M51.15 113.6v0.9M54.6 189.6v-0.9M54.6 113.6v0.9M58.05 189.6v-0.9M58.05 113.6v0.9M61.51 189.6v-0.9M61.51 113.6v0.9M64.96 189.6v-0.9M64.96 113.6v0.9M68.41 189.6v-0.9M68.41 113.6v0.9M71.86 189.6v-0.9M71.86 113.6v0.9M75.31 189.6v-0.9M75.31 113.6v0.9M78.76 189.6v-0.9M78.76 113.6v0.9M82.22 189.6v-0.9M82.22 113.6v0.9M85.67 189.6v-0.9M85.67 113.6v0.9M89.12 189.6v-0.9M89.12 113.6v0.9M92.57 189.6v-0.9M92.57 113.6v0.9M96.02 189.6v-0.9M96.02 113.6v0.9M99.47 189.6v-0.9M99.47 113.6v0.9M102.93 189.6v-0.9M102.93 113.6v0.9M106.38 189.6v-0.9M106.38 113.6v0.9M109.83 189.6v-0.9M109.83 113.6v0.9M113.28 189.6v-0.9M113.28 113.6v0.9M116.73 189.6v-0.9M116.73 113.6v0.9M120.18 189.6v-0.9M120.18 113.6v0.9M123.64 189.6v-0.9M123.64 113.6v0.9M127.09 189.6v-0.9M127.09 113.6v0.9M130.54 189.6v-0.9M130.54 113.6v0.9M133.99 189.6v-0.9M133.99 113.6v0.9M137.44 189.6v-0.9M137.44 113.6v0.9M140.89 189.6v-0.9M140.89 113.6v0.9M144.34 189.6v-0.9M144.34 113.6v0.9M147.8 189.6v-0.9M147.8 113.6v0.9M151.25 189.6v-0.9M151.25 113.6v0.9M154.7 189.6v-0.9M154.7 113.6v0.9M158.15 189.6v-0.9M158.15 113.6v0.9M161.6 189.6v-0.9M161.6 113.6v0.9M165.05 189.6v-0.9M165.05 113.6v0.9M168.51 189.6v-0.9M168.51 113.6v0.9M171.96 189.6v-0.9M171.96 113.6v0.9M175.41 189.6v-0.9M175.41 113.6v0.9M178.86 189.6v-0.9M178.86 113.6v0.9M182.31 189.6v-0.9M182.31 113.6v0.9M185.76 189.6v-0.9M185.76 113.6v0.9M189.22 189.6v-0.9M189.22 113.6v0.9M192.67 189.6v-0.9M192.67 113.6v0.9M196.12 189.6v-0.9M196.12 113.6v0.9M26.99 189.6v-1.7M26.99 113.6v1.7M61.51 189.6v-1.7M61.51 113.6v1.7M96.02 189.6v-1.7M96.02 113.6v1.7M130.54 189.6v-1.7M130.54 113.6v1.7M165.05 189.6v-1.7M165.05 113.6v1.7M23.4 115.24h1.7M197.5 115.24h-1.7M23.4 118.9h1.7M197.5 118.9h-1.7M23.4 122.55h1.7M197.5 122.55h-1.7M23.4 126.21h1.7M197.5 126.21h-1.7M23.4 129.86h1.7M197.5 129.86h-1.7M23.4 133.51h1.7M197.5 133.51h-1.7M23.4 137.17h1.7M197.5 137.17h-1.7M23.4 140.82h1.7M197.5 140.82h-1.7M23.4 144.47h1.7M197.5 144.47h-1.7M23.4 148.13h1.7M197.5 148.13h-1.7M23.4 151.78h1.7M197.5 151.78h-1.7M23.4 155.44h1.7M197.5 155.44h-1.7M23.4 159.09h1.7M197.5 159.09h-1.7M23.4 162.74h1.7M197.5 162.74h-1.7M23.4 166.4h1.7M197.5 166.4h-1.7M23.4 170.05h1.7M197.5 170.05h-1.7M23.4 173.71h1.7M197.5 173.71h-1.7M23.4 177.36h1.7M197.5 177.36h-1.7M23.4 181.01h1.7M197.5 181.01h-1.7M23.4 184.67h1.7M197.5 184.67h-1.7M23.4 188.32h1.7M197.5 188.32h-1.7M23.4 115.24h3.6M197.5 115.24h-3.6M23.4 133.51h3.6M197.5 133.51h-3.6M23.4 151.78h3.6M197.5 151.78h-3.6M23.4 170.05h3.6M197.5 170.05h-3.6M23.4 188.32h3.6M197.5 188.32h-3.6" stroke="#000" stroke-width="0.6" fill="none"/>
<g font-size="5.6" fill="#000"><text x="26.99" y="197.3" text-anchor="middle">0</text><text x="61.51" y="197.3" text-anchor="middle">1</text><text x="96.02" y="197.3" text-anchor="middle">2</text><text x="130.54" y="197.3" text-anchor="middle">3</text><text x="165.05" y="197.3" text-anchor="middle">4</text><text x="22.2" y="117.64" text-anchor="end">-0.10</text><text x="22.2" y="135.91" text-anchor="end">-0.05</text><text x="22.2" y="154.18" text-anchor="end">0.00</text><text x="22.2" y="172.45" text-anchor="end">0.05</text><text x="22.2" y="190.72" text-anchor="end">0.10</text><text x="110.45" y="203.1" text-anchor="middle">phased period (h)</text><text transform="translate(4.8,150.8) rotate(-90)" text-anchor="middle" font-size="5.85">normalized magnitude</text></g>
<text x="110.45" y="111.4" text-anchor="middle" font-size="7.0">(120178) 2003OP32, Period=4.85</text>
<rect x="223.7" y="113.6" width="174" height="76" fill="none" stroke="#000" stroke-width="1.2"/>
<path d="M225.11 189.6v-0.9M225.11 113.6v0.9M227.5 189.6v-0.9M227.5 113.6v0.9M229.89 189.6v-0.9M229.89 113.6v0.9M232.28 189.6v-0.9M232.28 113.6v0.9M234.67 189.6v-0.9M234.67 113.6v0.9M237.06 189.6v-0.9M237.06 113.6v0.9M239.45 189.6v-0.9M239.45 113.6v0.9M241.84 189.6v-0.9M241.84 113.6v0.9M244.23 189.6v-0.9M244.23 113.6v0.9M246.62 189.6v-0.9M246.62 113.6v0.9M249.01 189.6v-0.9M249.01 113.6v0.9M251.41 189.6v-0.9M251.41 113.6v0.9M253.8 189.6v-0.9M253.8 113.6v0.9M256.19 189.6v-0.9M256.19 113.6v0.9M258.58 189.6v-0.9M258.58 113.6v0.9M260.97 189.6v-0.9M260.97 113.6v0.9M263.36 189.6v-0.9M263.36 113.6v0.9M265.75 189.6v-0.9M265.75 113.6v0.9M268.14 189.6v-0.9M268.14 113.6v0.9M270.53 189.6v-0.9M270.53 113.6v0.9M272.92 189.6v-0.9M272.92 113.6v0.9M275.31 189.6v-0.9M275.31 113.6v0.9M277.7 189.6v-0.9M277.7 113.6v0.9M280.09 189.6v-0.9M280.09 113.6v0.9M282.48 189.6v-0.9M282.48 113.6v0.9M284.87 189.6v-0.9M284.87 113.6v0.9M287.26 189.6v-0.9M287.26 113.6v0.9M289.65 189.6v-0.9M289.65 113.6v0.9M292.04 189.6v-0.9M292.04 113.6v0.9M294.43 189.6v-0.9M294.43 113.6v0.9M296.82 189.6v-0.9M296.82 113.6v0.9M299.21 189.6v-0.9M299.21 113.6v0.9M301.6 189.6v-0.9M301.6 113.6v0.9M303.99 189.6v-0.9M303.99 113.6v0.9M306.39 189.6v-0.9M306.39 113.6v0.9M308.78 189.6v-0.9M308.78 113.6v0.9M311.17 189.6v-0.9M311.17 113.6v0.9M313.56 189.6v-0.9M313.56 113.6v0.9M315.95 189.6v-0.9M315.95 113.6v0.9M318.34 189.6v-0.9M318.34 113.6v0.9M320.73 189.6v-0.9M320.73 113.6v0.9M323.12 189.6v-0.9M323.12 113.6v0.9M325.51 189.6v-0.9M325.51 113.6v0.9M327.9 189.6v-0.9M327.9 113.6v0.9M330.29 189.6v-0.9M330.29 113.6v0.9M332.68 189.6v-0.9M332.68 113.6v0.9M335.07 189.6v-0.9M335.07 113.6v0.9M337.46 189.6v-0.9M337.46 113.6v0.9M339.85 189.6v-0.9M339.85 113.6v0.9M342.24 189.6v-0.9M342.24 113.6v0.9M344.63 189.6v-0.9M344.63 113.6v0.9M347.02 189.6v-0.9M347.02 113.6v0.9M349.41 189.6v-0.9M349.41 113.6v0.9M351.8 189.6v-0.9M351.8 113.6v0.9M354.19 189.6v-0.9M354.19 113.6v0.9M356.58 189.6v-0.9M356.58 113.6v0.9M358.97 189.6v-0.9M358.97 113.6v0.9M361.37 189.6v-0.9M361.37 113.6v0.9M363.76 189.6v-0.9M363.76 113.6v0.9M366.15 189.6v-0.9M366.15 113.6v0.9M368.54 189.6v-0.9M368.54 113.6v0.9M370.93 189.6v-0.9M370.93 113.6v0.9M373.32 189.6v-0.9M373.32 113.6v0.9M375.71 189.6v-0.9M375.71 113.6v0.9M378.1 189.6v-0.9M378.1 113.6v0.9M380.49 189.6v-0.9M380.49 113.6v0.9M382.88 189.6v-0.9M382.88 113.6v0.9M385.27 189.6v-0.9M385.27 113.6v0.9M387.66 189.6v-0.9M387.66 113.6v0.9M390.05 189.6v-0.9M390.05 113.6v0.9M392.44 189.6v-0.9M392.44 113.6v0.9M394.83 189.6v-0.9M394.83 113.6v0.9M397.22 189.6v-0.9M397.22 113.6v0.9M227.5 189.6v-1.7M227.5 113.6v1.7M251.41 189.6v-1.7M251.41 113.6v1.7M275.31 189.6v-1.7M275.31 113.6v1.7M299.21 189.6v-1.7M299.21 113.6v1.7M323.12 189.6v-1.7M323.12 113.6v1.7M347.02 189.6v-1.7M347.02 113.6v1.7M370.93 189.6v-1.7M370.93 113.6v1.7M223.7 115.24h1.7M397.7 115.24h-1.7M223.7 118.9h1.7M397.7 118.9h-1.7M223.7 122.55h1.7M397.7 122.55h-1.7M223.7 126.21h1.7M397.7 126.21h-1.7M223.7 129.86h1.7M397.7 129.86h-1.7M223.7 133.51h1.7M397.7 133.51h-1.7M223.7 137.17h1.7M397.7 137.17h-1.7M223.7 140.82h1.7M397.7 140.82h-1.7M223.7 144.47h1.7M397.7 144.47h-1.7M223.7 148.13h1.7M397.7 148.13h-1.7M223.7 151.78h1.7M397.7 151.78h-1.7M223.7 155.44h1.7M397.7 155.44h-1.7M223.7 159.09h1.7M397.7 159.09h-1.7M223.7 162.74h1.7M397.7 162.74h-1.7M223.7 166.4h1.7M397.7 166.4h-1.7M223.7 170.05h1.7M397.7 170.05h-1.7M223.7 173.71h1.7M397.7 173.71h-1.7M223.7 177.36h1.7M397.7 177.36h-1.7M223.7 181.01h1.7M397.7 181.01h-1.7M223.7 184.67h1.7M397.7 184.67h-1.7M223.7 188.32h1.7M397.7 188.32h-1.7M223.7 115.24h3.6M397.7 115.24h-3.6M223.7 133.51h3.6M397.7 133.51h-3.6M223.7 151.78h3.6M397.7 151.78h-3.6M223.7 170.05h3.6M397.7 170.05h-3.6M223.7 188.32h3.6M397.7 188.32h-3.6" stroke="#000" stroke-width="0.6" fill="none"/>
<g font-size="5.6" fill="#000"><text x="227.5" y="197.3" text-anchor="middle">0</text><text x="251.41" y="197.3" text-anchor="middle">1</text><text x="275.31" y="197.3" text-anchor="middle">2</text><text x="299.21" y="197.3" text-anchor="middle">3</text><text x="323.12" y="197.3" text-anchor="middle">4</text><text x="347.02" y="197.3" text-anchor="middle">5</text><text x="370.93" y="197.3" text-anchor="middle">6</text><text x="222.5" y="117.64" text-anchor="end">-0.10</text><text x="222.5" y="135.91" text-anchor="end">-0.05</text><text x="222.5" y="154.18" text-anchor="end">0.00</text><text x="222.5" y="172.45" text-anchor="end">0.05</text><text x="222.5" y="190.72" text-anchor="end">0.10</text><text x="310.7" y="203.1" text-anchor="middle">phased period (h)</text><text transform="translate(205.1,150.8) rotate(-90)" text-anchor="middle" font-size="5.85">normalized magnitude</text></g>
<text x="310.7" y="111.4" text-anchor="middle" font-size="7.0">(145452) 2005RN43, Period=6.95</text>
<rect x="424" y="113.6" width="174.2" height="76" fill="none" stroke="#000" stroke-width="1.2"/>
<path d="M425.66 189.6v-0.9M425.66 113.6v0.9M428.39 189.6v-0.9M428.39 113.6v0.9M431.11 189.6v-0.9M431.11 113.6v0.9M433.84 189.6v-0.9M433.84 113.6v0.9M436.57 189.6v-0.9M436.57 113.6v0.9M439.29 189.6v-0.9M439.29 113.6v0.9M442.02 189.6v-0.9M442.02 113.6v0.9M444.74 189.6v-0.9M444.74 113.6v0.9M447.47 189.6v-0.9M447.47 113.6v0.9M450.19 189.6v-0.9M450.19 113.6v0.9M452.92 189.6v-0.9M452.92 113.6v0.9M455.65 189.6v-0.9M455.65 113.6v0.9M458.37 189.6v-0.9M458.37 113.6v0.9M461.1 189.6v-0.9M461.1 113.6v0.9M463.82 189.6v-0.9M463.82 113.6v0.9M466.55 189.6v-0.9M466.55 113.6v0.9M469.27 189.6v-0.9M469.27 113.6v0.9M472 189.6v-0.9M472 113.6v0.9M474.73 189.6v-0.9M474.73 113.6v0.9M477.45 189.6v-0.9M477.45 113.6v0.9M480.18 189.6v-0.9M480.18 113.6v0.9M482.9 189.6v-0.9M482.9 113.6v0.9M485.63 189.6v-0.9M485.63 113.6v0.9M488.35 189.6v-0.9M488.35 113.6v0.9M491.08 189.6v-0.9M491.08 113.6v0.9M493.81 189.6v-0.9M493.81 113.6v0.9M496.53 189.6v-0.9M496.53 113.6v0.9M499.26 189.6v-0.9M499.26 113.6v0.9M501.98 189.6v-0.9M501.98 113.6v0.9M504.71 189.6v-0.9M504.71 113.6v0.9M507.43 189.6v-0.9M507.43 113.6v0.9M510.16 189.6v-0.9M510.16 113.6v0.9M512.89 189.6v-0.9M512.89 113.6v0.9M515.61 189.6v-0.9M515.61 113.6v0.9M518.34 189.6v-0.9M518.34 113.6v0.9M521.06 189.6v-0.9M521.06 113.6v0.9M523.79 189.6v-0.9M523.79 113.6v0.9M526.51 189.6v-0.9M526.51 113.6v0.9M529.24 189.6v-0.9M529.24 113.6v0.9M531.97 189.6v-0.9M531.97 113.6v0.9M534.69 189.6v-0.9M534.69 113.6v0.9M537.42 189.6v-0.9M537.42 113.6v0.9M540.14 189.6v-0.9M540.14 113.6v0.9M542.87 189.6v-0.9M542.87 113.6v0.9M545.59 189.6v-0.9M545.59 113.6v0.9M548.32 189.6v-0.9M548.32 113.6v0.9M551.05 189.6v-0.9M551.05 113.6v0.9M553.77 189.6v-0.9M553.77 113.6v0.9M556.5 189.6v-0.9M556.5 113.6v0.9M559.22 189.6v-0.9M559.22 113.6v0.9M561.95 189.6v-0.9M561.95 113.6v0.9M564.67 189.6v-0.9M564.67 113.6v0.9M567.4 189.6v-0.9M567.4 113.6v0.9M570.13 189.6v-0.9M570.13 113.6v0.9M572.85 189.6v-0.9M572.85 113.6v0.9M575.58 189.6v-0.9M575.58 113.6v0.9M578.3 189.6v-0.9M578.3 113.6v0.9M581.03 189.6v-0.9M581.03 113.6v0.9M583.75 189.6v-0.9M583.75 113.6v0.9M586.48 189.6v-0.9M586.48 113.6v0.9M589.21 189.6v-0.9M589.21 113.6v0.9M591.93 189.6v-0.9M591.93 113.6v0.9M594.66 189.6v-0.9M594.66 113.6v0.9M597.38 189.6v-0.9M597.38 113.6v0.9M428.39 189.6v-1.7M428.39 113.6v1.7M455.65 189.6v-1.7M455.65 113.6v1.7M482.9 189.6v-1.7M482.9 113.6v1.7M510.16 189.6v-1.7M510.16 113.6v1.7M537.42 189.6v-1.7M537.42 113.6v1.7M564.67 189.6v-1.7M564.67 113.6v1.7M591.93 189.6v-1.7M591.93 113.6v1.7M424 115.24h1.7M598.2 115.24h-1.7M424 118.9h1.7M598.2 118.9h-1.7M424 122.55h1.7M598.2 122.55h-1.7M424 126.21h1.7M598.2 126.21h-1.7M424 129.86h1.7M598.2 129.86h-1.7M424 133.51h1.7M598.2 133.51h-1.7M424 137.17h1.7M598.2 137.17h-1.7M424 140.82h1.7M598.2 140.82h-1.7M424 144.47h1.7M598.2 144.47h-1.7M424 148.13h1.7M598.2 148.13h-1.7M424 151.78h1.7M598.2 151.78h-1.7M424 155.44h1.7M598.2 155.44h-1.7M424 159.09h1.7M598.2 159.09h-1.7M424 162.74h1.7M598.2 162.74h-1.7M424 166.4h1.7M598.2 166.4h-1.7M424 170.05h1.7M598.2 170.05h-1.7M424 173.71h1.7M598.2 173.71h-1.7M424 177.36h1.7M598.2 177.36h-1.7M424 181.01h1.7M598.2 181.01h-1.7M424 184.67h1.7M598.2 184.67h-1.7M424 188.32h1.7M598.2 188.32h-1.7M424 115.24h3.6M598.2 115.24h-3.6M424 133.51h3.6M598.2 133.51h-3.6M424 151.78h3.6M598.2 151.78h-3.6M424 170.05h3.6M598.2 170.05h-3.6M424 188.32h3.6M598.2 188.32h-3.6" stroke="#000" stroke-width="0.6" fill="none"/>
<g font-size="5.6" fill="#000"><text x="428.39" y="197.3" text-anchor="middle">0</text><text x="455.65" y="197.3" text-anchor="middle">1</text><text x="482.9" y="197.3" text-anchor="middle">2</text><text x="510.16" y="197.3" text-anchor="middle">3</text><text x="537.42" y="197.3" text-anchor="middle">4</text><text x="564.67" y="197.3" text-anchor="middle">5</text><text x="591.93" y="197.3" text-anchor="middle">6</text><text x="422.8" y="117.64" text-anchor="end">-0.10</text><text x="422.8" y="135.91" text-anchor="end">-0.05</text><text x="422.8" y="154.18" text-anchor="end">0.00</text><text x="422.8" y="172.45" text-anchor="end">0.05</text><text x="422.8" y="190.72" text-anchor="end">0.10</text><text x="511.1" y="203.1" text-anchor="middle">phased period (h)</text><text transform="translate(405.4,150.8) rotate(-90)" text-anchor="middle" font-size="5.85">normalized magnitude</text></g>
<text x="511.1" y="111.4" text-anchor="middle" font-size="7.0">(278361) 2007JJ43, Period=6.04</text>
<rect x="23.4" y="217.7" width="174.1" height="76.3" fill="none" stroke="#000" stroke-width="1.2"/>
<path d="M27.5 294v-0.9M27.5 217.7v0.9M36.06 294v-0.9M36.06 217.7v0.9M44.61 294v-0.9M44.61 217.7v0.9M53.16 294v-0.9M53.16 217.7v0.9M61.71 294v-0.9M61.71 217.7v0.9M70.26 294v-0.9M70.26 217.7v0.9M78.81 294v-0.9M78.81 217.7v0.9M87.36 294v-0.9M87.36 217.7v0.9M95.91 294v-0.9M95.91 217.7v0.9M104.46 294v-0.9M104.46 217.7v0.9M113.02 294v-0.9M113.02 217.7v0.9M121.57 294v-0.9M121.57 217.7v0.9M130.12 294v-0.9M130.12 217.7v0.9M138.67 294v-0.9M138.67 217.7v0.9M147.22 294v-0.9M147.22 217.7v0.9M155.77 294v-0.9M155.77 217.7v0.9M164.32 294v-0.9M164.32 217.7v0.9M172.87 294v-0.9M172.87 217.7v0.9M181.42 294v-0.9M181.42 217.7v0.9M189.98 294v-0.9M189.98 217.7v0.9M27.5 294v-1.7M27.5 217.7v1.7M61.71 294v-1.7M61.71 217.7v1.7M95.91 294v-1.7M95.91 217.7v1.7M130.12 294v-1.7M130.12 217.7v1.7M164.32 294v-1.7M164.32 217.7v1.7M23.4 219.35h1.7M197.5 219.35h-1.7M23.4 223.02h1.7M197.5 223.02h-1.7M23.4 226.69h1.7M197.5 226.69h-1.7M23.4 230.36h1.7M197.5 230.36h-1.7M23.4 234.02h1.7M197.5 234.02h-1.7M23.4 237.69h1.7M197.5 237.69h-1.7M23.4 241.36h1.7M197.5 241.36h-1.7M23.4 245.03h1.7M197.5 245.03h-1.7M23.4 248.7h1.7M197.5 248.7h-1.7M23.4 252.37h1.7M197.5 252.37h-1.7M23.4 256.03h1.7M197.5 256.03h-1.7M23.4 259.7h1.7M197.5 259.7h-1.7M23.4 263.37h1.7M197.5 263.37h-1.7M23.4 267.04h1.7M197.5 267.04h-1.7M23.4 270.71h1.7M197.5 270.71h-1.7M23.4 274.37h1.7M197.5 274.37h-1.7M23.4 278.04h1.7M197.5 278.04h-1.7M23.4 281.71h1.7M197.5 281.71h-1.7M23.4 285.38h1.7M197.5 285.38h-1.7M23.4 289.05h1.7M197.5 289.05h-1.7M23.4 292.72h1.7M197.5 292.72h-1.7M23.4 219.35h3.6M197.5 219.35h-3.6M23.4 237.69h3.6M197.5 237.69h-3.6M23.4 256.03h3.6M197.5 256.03h-3.6M23.4 274.37h3.6M197.5 274.37h-3.6M23.4 292.72h3.6M197.5 292.72h-3.6" stroke="#000" stroke-width="0.6" fill="none"/>
<g font-size="5.6" fill="#000"><text x="27.5" y="301.7" text-anchor="middle">0</text><text x="61.71" y="301.7" text-anchor="middle">2</text><text x="95.91" y="301.7" text-anchor="middle">4</text><text x="130.12" y="301.7" text-anchor="middle">6</text><text x="164.32" y="301.7" text-anchor="middle">8</text><text x="22.2" y="221.75" text-anchor="end">-0.10</text><text x="22.2" y="240.09" text-anchor="end">-0.05</text><text x="22.2" y="258.43" text-anchor="end">0.00</text><text x="22.2" y="276.77" text-anchor="end">0.05</text><text x="22.2" y="295.12" text-anchor="end">0.10</text><text x="110.45" y="307.5" text-anchor="middle">phased period (h)</text><text transform="translate(4.8,255.05) rotate(-90)" text-anchor="middle" font-size="5.85">normalized magnitude</text></g>
<text x="110.45" y="215.5" text-anchor="middle" font-size="7.0">(120178) 2003OP32, Period=9.71</text>
<rect x="223.7" y="217.7" width="174" height="76.3" fill="none" stroke="#000" stroke-width="1.2"/>
<path d="M227.52 294v-0.9M227.52 217.7v0.9M233.5 294v-0.9M233.5 217.7v0.9M239.47 294v-0.9M239.47 217.7v0.9M245.45 294v-0.9M245.45 217.7v0.9M251.43 294v-0.9M251.43 217.7v0.9M257.4 294v-0.9M257.4 217.7v0.9M263.38 294v-0.9M263.38 217.7v0.9M269.35 294v-0.9M269.35 217.7v0.9M275.33 294v-0.9M275.33 217.7v0.9M281.3 294v-0.9M281.3 217.7v0.9M287.28 294v-0.9M287.28 217.7v0.9M293.25 294v-0.9M293.25 217.7v0.9M299.23 294v-0.9M299.23 217.7v0.9M305.2 294v-0.9M305.2 217.7v0.9M311.18 294v-0.9M311.18 217.7v0.9M317.15 294v-0.9M317.15 217.7v0.9M323.13 294v-0.9M323.13 217.7v0.9M329.1 294v-0.9M329.1 217.7v0.9M335.08 294v-0.9M335.08 217.7v0.9M341.05 294v-0.9M341.05 217.7v0.9M347.03 294v-0.9M347.03 217.7v0.9M353 294v-0.9M353 217.7v0.9M358.98 294v-0.9M358.98 217.7v0.9M364.96 294v-0.9M364.96 217.7v0.9M370.93 294v-0.9M370.93 217.7v0.9M376.91 294v-0.9M376.91 217.7v0.9M382.88 294v-0.9M382.88 217.7v0.9M388.86 294v-0.9M388.86 217.7v0.9M394.83 294v-0.9M394.83 217.7v0.9M227.52 294v-1.7M227.52 217.7v1.7M251.43 294v-1.7M251.43 217.7v1.7M275.33 294v-1.7M275.33 217.7v1.7M299.23 294v-1.7M299.23 217.7v1.7M323.13 294v-1.7M323.13 217.7v1.7M347.03 294v-1.7M347.03 217.7v1.7M370.93 294v-1.7M370.93 217.7v1.7M223.7 219.35h1.7M397.7 219.35h-1.7M223.7 223.02h1.7M397.7 223.02h-1.7M223.7 226.69h1.7M397.7 226.69h-1.7M223.7 230.36h1.7M397.7 230.36h-1.7M223.7 234.02h1.7M397.7 234.02h-1.7M223.7 237.69h1.7M397.7 237.69h-1.7M223.7 241.36h1.7M397.7 241.36h-1.7M223.7 245.03h1.7M397.7 245.03h-1.7M223.7 248.7h1.7M397.7 248.7h-1.7M223.7 252.37h1.7M397.7 252.37h-1.7M223.7 256.03h1.7M397.7 256.03h-1.7M223.7 259.7h1.7M397.7 259.7h-1.7M223.7 263.37h1.7M397.7 263.37h-1.7M223.7 267.04h1.7M397.7 267.04h-1.7M223.7 270.71h1.7M397.7 270.71h-1.7M223.7 274.37h1.7M397.7 274.37h-1.7M223.7 278.04h1.7M397.7 278.04h-1.7M223.7 281.71h1.7M397.7 281.71h-1.7M223.7 285.38h1.7M397.7 285.38h-1.7M223.7 289.05h1.7M397.7 289.05h-1.7M223.7 292.72h1.7M397.7 292.72h-1.7M223.7 219.35h3.6M397.7 219.35h-3.6M223.7 237.69h3.6M397.7 237.69h-3.6M223.7 256.03h3.6M397.7 256.03h-3.6M223.7 274.37h3.6M397.7 274.37h-3.6M223.7 292.72h3.6M397.7 292.72h-3.6" stroke="#000" stroke-width="0.6" fill="none"/>
<g font-size="5.6" fill="#000"><text x="227.52" y="301.7" text-anchor="middle">0</text><text x="251.43" y="301.7" text-anchor="middle">2</text><text x="275.33" y="301.7" text-anchor="middle">4</text><text x="299.23" y="301.7" text-anchor="middle">6</text><text x="323.13" y="301.7" text-anchor="middle">8</text><text x="347.03" y="301.7" text-anchor="middle">10</text><text x="370.93" y="301.7" text-anchor="middle">12</text><text x="222.5" y="221.75" text-anchor="end">-0.10</text><text x="222.5" y="240.09" text-anchor="end">-0.05</text><text x="222.5" y="258.43" text-anchor="end">0.00</text><text x="222.5" y="276.77" text-anchor="end">0.05</text><text x="222.5" y="295.12" text-anchor="end">0.10</text><text x="310.7" y="307.5" text-anchor="middle">phased period (h)</text><text transform="translate(205.1,255.05) rotate(-90)" text-anchor="middle" font-size="5.85">normalized magnitude</text></g>
<text x="310.7" y="215.5" text-anchor="middle" font-size="7.0">(145452) 2005RN43, Period=13.89</text>
<rect x="424" y="217.7" width="174.2" height="76.3" fill="none" stroke="#000" stroke-width="1.2"/>
<path d="M428.36 294v-0.9M428.36 217.7v0.9M435.18 294v-0.9M435.18 217.7v0.9M441.99 294v-0.9M441.99 217.7v0.9M448.81 294v-0.9M448.81 217.7v0.9M455.62 294v-0.9M455.62 217.7v0.9M462.44 294v-0.9M462.44 217.7v0.9M469.25 294v-0.9M469.25 217.7v0.9M476.07 294v-0.9M476.07 217.7v0.9M482.88 294v-0.9M482.88 217.7v0.9M489.7 294v-0.9M489.7 217.7v0.9M496.52 294v-0.9M496.52 217.7v0.9M503.33 294v-0.9M503.33 217.7v0.9M510.15 294v-0.9M510.15 217.7v0.9M516.96 294v-0.9M516.96 217.7v0.9M523.78 294v-0.9M523.78 217.7v0.9M530.59 294v-0.9M530.59 217.7v0.9M537.41 294v-0.9M537.41 217.7v0.9M544.22 294v-0.9M544.22 217.7v0.9M551.04 294v-0.9M551.04 217.7v0.9M557.85 294v-0.9M557.85 217.7v0.9M564.67 294v-0.9M564.67 217.7v0.9M571.48 294v-0.9M571.48 217.7v0.9M578.3 294v-0.9M578.3 217.7v0.9M585.11 294v-0.9M585.11 217.7v0.9M591.93 294v-0.9M591.93 217.7v0.9M428.36 294v-1.7M428.36 217.7v1.7M455.62 294v-1.7M455.62 217.7v1.7M482.88 294v-1.7M482.88 217.7v1.7M510.15 294v-1.7M510.15 217.7v1.7M537.41 294v-1.7M537.41 217.7v1.7M564.67 294v-1.7M564.67 217.7v1.7M591.93 294v-1.7M591.93 217.7v1.7M424 219.35h1.7M598.2 219.35h-1.7M424 223.02h1.7M598.2 223.02h-1.7M424 226.69h1.7M598.2 226.69h-1.7M424 230.36h1.7M598.2 230.36h-1.7M424 234.02h1.7M598.2 234.02h-1.7M424 237.69h1.7M598.2 237.69h-1.7M424 241.36h1.7M598.2 241.36h-1.7M424 245.03h1.7M598.2 245.03h-1.7M424 248.7h1.7M598.2 248.7h-1.7M424 252.37h1.7M598.2 252.37h-1.7M424 256.03h1.7M598.2 256.03h-1.7M424 259.7h1.7M598.2 259.7h-1.7M424 263.37h1.7M598.2 263.37h-1.7M424 267.04h1.7M598.2 267.04h-1.7M424 270.71h1.7M598.2 270.71h-1.7M424 274.37h1.7M598.2 274.37h-1.7M424 278.04h1.7M598.2 278.04h-1.7M424 281.71h1.7M598.2 281.71h-1.7M424 285.38h1.7M598.2 285.38h-1.7M424 289.05h1.7M598.2 289.05h-1.7M424 292.72h1.7M598.2 292.72h-1.7M424 219.35h3.6M598.2 219.35h-3.6M424 237.69h3.6M598.2 237.69h-3.6M424 256.03h3.6M598.2 256.03h-3.6M424 274.37h3.6M598.2 274.37h-3.6M424 292.72h3.6M598.2 292.72h-3.6" stroke="#000" stroke-width="0.6" fill="none"/>
<g font-size="5.6" fill="#000"><text x="428.36" y="301.7" text-anchor="middle">0</text><text x="455.62" y="301.7" text-anchor="middle">2</text><text x="482.88" y="301.7" text-anchor="middle">4</text><text x="510.15" y="301.7" text-anchor="middle">6</text><text x="537.41" y="301.7" text-anchor="middle">8</text><text x="564.67" y="301.7" text-anchor="middle">10</text><text x="591.93" y="301.7" text-anchor="middle">12</text><text x="422.8" y="221.75" text-anchor="end">-0.10</text><text x="422.8" y="240.09" text-anchor="end">-0.05</text><text x="422.8" y="258.43" text-anchor="end">0.00</text><text x="422.8" y="276.77" text-anchor="end">0.05</text><text x="422.8" y="295.12" text-anchor="end">0.10</text><text x="511.1" y="307.5" text-anchor="middle">phased period (h)</text><text transform="translate(405.4,255.05) rotate(-90)" text-anchor="middle" font-size="5.85">normalized magnitude</text></g>
<text x="511.1" y="215.5" text-anchor="middle" font-size="7.0">(278361) 2007JJ43, Period=12.09</text>
</g>
</svg>
</body></html>
